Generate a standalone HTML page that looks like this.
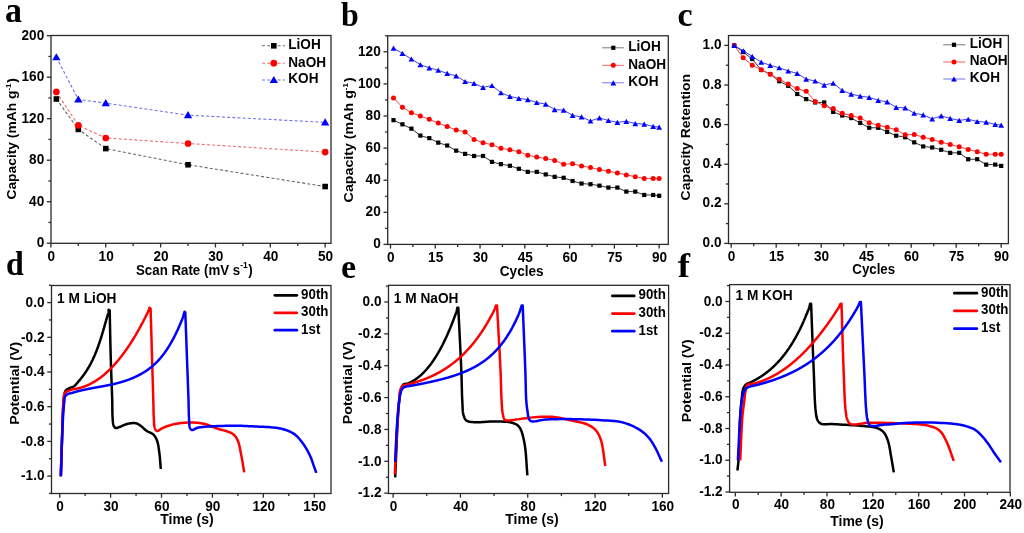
<!DOCTYPE html>
<html><head><meta charset="utf-8"><style>
html,body{margin:0;padding:0;background:#fff;}
svg{display:block;will-change:transform;}
</style></head><body>
<svg width="1024" height="533" viewBox="0 0 1024 533">
<rect width="1024" height="533" fill="#fff"/>
<g transform="translate(5.00,21.80) scale(1.0,1.04)"><text x="0" y="0" font-family='"Liberation Serif", serif' font-size="34" font-weight="bold" text-anchor="start" fill="#000">a</text></g>
<rect x="51.00" y="35.50" width="280.00" height="207.80" fill="none" stroke="#2a2a2a" stroke-width="1.3"/>
<line x1="50.90" y1="243.30" x2="50.90" y2="247.50" stroke="#2a2a2a" stroke-width="1.3" />
<line x1="105.75" y1="243.30" x2="105.75" y2="247.50" stroke="#2a2a2a" stroke-width="1.3" />
<line x1="160.60" y1="243.30" x2="160.60" y2="247.50" stroke="#2a2a2a" stroke-width="1.3" />
<line x1="215.45" y1="243.30" x2="215.45" y2="247.50" stroke="#2a2a2a" stroke-width="1.3" />
<line x1="270.30" y1="243.30" x2="270.30" y2="247.50" stroke="#2a2a2a" stroke-width="1.3" />
<line x1="325.15" y1="243.30" x2="325.15" y2="247.50" stroke="#2a2a2a" stroke-width="1.3" />
<line x1="78.33" y1="243.30" x2="78.33" y2="245.90" stroke="#2a2a2a" stroke-width="1.3" />
<line x1="133.18" y1="243.30" x2="133.18" y2="245.90" stroke="#2a2a2a" stroke-width="1.3" />
<line x1="188.03" y1="243.30" x2="188.03" y2="245.90" stroke="#2a2a2a" stroke-width="1.3" />
<line x1="242.88" y1="243.30" x2="242.88" y2="245.90" stroke="#2a2a2a" stroke-width="1.3" />
<line x1="297.73" y1="243.30" x2="297.73" y2="245.90" stroke="#2a2a2a" stroke-width="1.3" />
<g transform="translate(51.30,260.70) scale(1.0,1.08)"><text x="0" y="0" font-family='"Liberation Sans", sans-serif' font-size="13.6" font-weight="bold" text-anchor="middle" fill="#000">0</text></g>
<g transform="translate(106.15,260.70) scale(1.0,1.08)"><text x="0" y="0" font-family='"Liberation Sans", sans-serif' font-size="13.6" font-weight="bold" text-anchor="middle" fill="#000">10</text></g>
<g transform="translate(161.00,260.70) scale(1.0,1.08)"><text x="0" y="0" font-family='"Liberation Sans", sans-serif' font-size="13.6" font-weight="bold" text-anchor="middle" fill="#000">20</text></g>
<g transform="translate(215.85,260.70) scale(1.0,1.08)"><text x="0" y="0" font-family='"Liberation Sans", sans-serif' font-size="13.6" font-weight="bold" text-anchor="middle" fill="#000">30</text></g>
<g transform="translate(270.70,260.70) scale(1.0,1.08)"><text x="0" y="0" font-family='"Liberation Sans", sans-serif' font-size="13.6" font-weight="bold" text-anchor="middle" fill="#000">40</text></g>
<g transform="translate(325.55,260.70) scale(1.0,1.08)"><text x="0" y="0" font-family='"Liberation Sans", sans-serif' font-size="13.6" font-weight="bold" text-anchor="middle" fill="#000">50</text></g>
<line x1="46.80" y1="243.20" x2="51.00" y2="243.20" stroke="#2a2a2a" stroke-width="1.3" />
<line x1="46.80" y1="201.70" x2="51.00" y2="201.70" stroke="#2a2a2a" stroke-width="1.3" />
<line x1="46.80" y1="160.20" x2="51.00" y2="160.20" stroke="#2a2a2a" stroke-width="1.3" />
<line x1="46.80" y1="118.70" x2="51.00" y2="118.70" stroke="#2a2a2a" stroke-width="1.3" />
<line x1="46.80" y1="77.20" x2="51.00" y2="77.20" stroke="#2a2a2a" stroke-width="1.3" />
<line x1="46.80" y1="35.70" x2="51.00" y2="35.70" stroke="#2a2a2a" stroke-width="1.3" />
<line x1="48.40" y1="222.45" x2="51.00" y2="222.45" stroke="#2a2a2a" stroke-width="1.3" />
<line x1="48.40" y1="180.95" x2="51.00" y2="180.95" stroke="#2a2a2a" stroke-width="1.3" />
<line x1="48.40" y1="139.45" x2="51.00" y2="139.45" stroke="#2a2a2a" stroke-width="1.3" />
<line x1="48.40" y1="97.95" x2="51.00" y2="97.95" stroke="#2a2a2a" stroke-width="1.3" />
<line x1="48.40" y1="56.45" x2="51.00" y2="56.45" stroke="#2a2a2a" stroke-width="1.3" />
<g transform="translate(44.20,247.40) scale(1.0,1.08)"><text x="0" y="0" font-family='"Liberation Sans", sans-serif' font-size="13.6" font-weight="bold" text-anchor="end" fill="#000">0</text></g>
<g transform="translate(44.20,205.90) scale(1.0,1.08)"><text x="0" y="0" font-family='"Liberation Sans", sans-serif' font-size="13.6" font-weight="bold" text-anchor="end" fill="#000">40</text></g>
<g transform="translate(44.20,164.40) scale(1.0,1.08)"><text x="0" y="0" font-family='"Liberation Sans", sans-serif' font-size="13.6" font-weight="bold" text-anchor="end" fill="#000">80</text></g>
<g transform="translate(44.20,122.90) scale(1.0,1.08)"><text x="0" y="0" font-family='"Liberation Sans", sans-serif' font-size="13.6" font-weight="bold" text-anchor="end" fill="#000">120</text></g>
<g transform="translate(44.20,81.40) scale(1.0,1.08)"><text x="0" y="0" font-family='"Liberation Sans", sans-serif' font-size="13.6" font-weight="bold" text-anchor="end" fill="#000">160</text></g>
<g transform="translate(44.20,39.90) scale(1.0,1.08)"><text x="0" y="0" font-family='"Liberation Sans", sans-serif' font-size="13.6" font-weight="bold" text-anchor="end" fill="#000">200</text></g>
<g transform="translate(194.30,275.00) scale(1.0,1.1)"><text x="0" y="0" font-family='"Liberation Sans", sans-serif' font-size="13.3" font-weight="bold" text-anchor="middle" fill="#000">Scan Rate (mV s<tspan dy="-6.8" font-size="8.5">-1</tspan><tspan dy="6.8" dx="0.5">)</tspan></text></g>
<g transform="translate(15.90,138.80) rotate(-90) scale(1.04,1.0)"><text x="0" y="0" font-family='"Liberation Sans", sans-serif' font-size="13.3" font-weight="bold" text-anchor="middle">Capacity (mAh g<tspan dy="-5" font-size="7.5">-1</tspan><tspan dy="5" dx="1">)</tspan></text></g>
<polyline points="56.38,98.99 78.33,129.39 105.75,148.58 188.03,164.76 325.15,186.55" fill="none" stroke="#666" stroke-width="1.1" stroke-dasharray="3,2.2"/>
<polyline points="56.38,91.93 78.33,125.34 105.75,138.00 188.03,143.50 325.15,152.11" fill="none" stroke="#f07070" stroke-width="1.1" stroke-dasharray="3,2.2"/>
<polyline points="56.38,57.18 78.33,99.51 105.75,103.14 188.03,115.17 325.15,122.33" fill="none" stroke="#7070f0" stroke-width="1.1" stroke-dasharray="3,2.2"/>
<rect x="53.59" y="96.19" width="5.6" height="5.6" fill="#000000"/>
<rect x="75.53" y="126.59" width="5.6" height="5.6" fill="#000000"/>
<rect x="102.95" y="145.78" width="5.6" height="5.6" fill="#000000"/>
<rect x="185.22" y="161.96" width="5.6" height="5.6" fill="#000000"/>
<rect x="322.35" y="183.75" width="5.6" height="5.6" fill="#000000"/>
<circle cx="56.38" cy="91.93" r="3.35" fill="#ff0000"/>
<circle cx="78.33" cy="125.34" r="3.35" fill="#ff0000"/>
<circle cx="105.75" cy="138.00" r="3.35" fill="#ff0000"/>
<circle cx="188.03" cy="143.50" r="3.35" fill="#ff0000"/>
<circle cx="325.15" cy="152.11" r="3.35" fill="#ff0000"/>
<path d="M56.38 53.13 L60.53 60.23 L52.23 60.23 Z" fill="#0000ff"/>
<path d="M78.33 95.46 L82.48 102.56 L74.17 102.56 Z" fill="#0000ff"/>
<path d="M105.75 99.09 L109.90 106.19 L101.60 106.19 Z" fill="#0000ff"/>
<path d="M188.03 111.12 L192.18 118.22 L183.88 118.22 Z" fill="#0000ff"/>
<path d="M325.15 118.28 L329.30 125.38 L321.00 125.38 Z" fill="#0000ff"/>
<line x1="262.00" y1="45.80" x2="285.00" y2="45.80" stroke="#666" stroke-width="1.1" stroke-dasharray="3,2.2"/>
<rect x="271.00" y="43.00" width="5.6" height="5.6" fill="#000000"/>
<g transform="translate(288.30,49.20) scale(1.0,1.1)"><text x="0" y="0" font-family='"Liberation Sans", sans-serif' font-size="13.6" font-weight="bold" text-anchor="start" fill="#000">LiOH</text></g>
<line x1="262.00" y1="63.20" x2="285.00" y2="63.20" stroke="#f07070" stroke-width="1.1" stroke-dasharray="3,2.2"/>
<circle cx="273.80" cy="63.20" r="3.35" fill="#ff0000"/>
<g transform="translate(288.30,66.60) scale(1.0,1.1)"><text x="0" y="0" font-family='"Liberation Sans", sans-serif' font-size="13.6" font-weight="bold" text-anchor="start" fill="#000">NaOH</text></g>
<line x1="262.00" y1="80.00" x2="285.00" y2="80.00" stroke="#7070f0" stroke-width="1.1" stroke-dasharray="3,2.2"/>
<path d="M273.80 75.95 L277.95 83.05 L269.65 83.05 Z" fill="#0000ff"/>
<g transform="translate(288.30,83.40) scale(1.0,1.1)"><text x="0" y="0" font-family='"Liberation Sans", sans-serif' font-size="13.6" font-weight="bold" text-anchor="start" fill="#000">KOH</text></g>
<g transform="translate(341.00,26.30) scale(0.94,1.0)"><text x="0" y="0" font-family='"Liberation Serif", serif' font-size="34" font-weight="bold" text-anchor="start" fill="#000">b</text></g>
<rect x="387.70" y="35.80" width="280.60" height="208.60" fill="none" stroke="#2a2a2a" stroke-width="1.3"/>
<line x1="390.50" y1="244.40" x2="390.50" y2="248.60" stroke="#2a2a2a" stroke-width="1.3" />
<line x1="435.27" y1="244.40" x2="435.27" y2="248.60" stroke="#2a2a2a" stroke-width="1.3" />
<line x1="480.05" y1="244.40" x2="480.05" y2="248.60" stroke="#2a2a2a" stroke-width="1.3" />
<line x1="524.83" y1="244.40" x2="524.83" y2="248.60" stroke="#2a2a2a" stroke-width="1.3" />
<line x1="569.60" y1="244.40" x2="569.60" y2="248.60" stroke="#2a2a2a" stroke-width="1.3" />
<line x1="614.38" y1="244.40" x2="614.38" y2="248.60" stroke="#2a2a2a" stroke-width="1.3" />
<line x1="659.15" y1="244.40" x2="659.15" y2="248.60" stroke="#2a2a2a" stroke-width="1.3" />
<line x1="412.89" y1="244.40" x2="412.89" y2="247.00" stroke="#2a2a2a" stroke-width="1.3" />
<line x1="457.66" y1="244.40" x2="457.66" y2="247.00" stroke="#2a2a2a" stroke-width="1.3" />
<line x1="502.44" y1="244.40" x2="502.44" y2="247.00" stroke="#2a2a2a" stroke-width="1.3" />
<line x1="547.21" y1="244.40" x2="547.21" y2="247.00" stroke="#2a2a2a" stroke-width="1.3" />
<line x1="591.99" y1="244.40" x2="591.99" y2="247.00" stroke="#2a2a2a" stroke-width="1.3" />
<line x1="636.76" y1="244.40" x2="636.76" y2="247.00" stroke="#2a2a2a" stroke-width="1.3" />
<g transform="translate(390.90,262.00) scale(1.0,1.12)"><text x="0" y="0" font-family='"Liberation Sans", sans-serif' font-size="13.6" font-weight="bold" text-anchor="middle" fill="#000">0</text></g>
<g transform="translate(435.67,262.00) scale(1.0,1.12)"><text x="0" y="0" font-family='"Liberation Sans", sans-serif' font-size="13.6" font-weight="bold" text-anchor="middle" fill="#000">15</text></g>
<g transform="translate(480.45,262.00) scale(1.0,1.12)"><text x="0" y="0" font-family='"Liberation Sans", sans-serif' font-size="13.6" font-weight="bold" text-anchor="middle" fill="#000">30</text></g>
<g transform="translate(525.23,262.00) scale(1.0,1.12)"><text x="0" y="0" font-family='"Liberation Sans", sans-serif' font-size="13.6" font-weight="bold" text-anchor="middle" fill="#000">45</text></g>
<g transform="translate(570.00,262.00) scale(1.0,1.12)"><text x="0" y="0" font-family='"Liberation Sans", sans-serif' font-size="13.6" font-weight="bold" text-anchor="middle" fill="#000">60</text></g>
<g transform="translate(614.77,262.00) scale(1.0,1.12)"><text x="0" y="0" font-family='"Liberation Sans", sans-serif' font-size="13.6" font-weight="bold" text-anchor="middle" fill="#000">75</text></g>
<g transform="translate(659.55,262.00) scale(1.0,1.12)"><text x="0" y="0" font-family='"Liberation Sans", sans-serif' font-size="13.6" font-weight="bold" text-anchor="middle" fill="#000">90</text></g>
<line x1="383.50" y1="244.40" x2="387.70" y2="244.40" stroke="#2a2a2a" stroke-width="1.3" />
<line x1="383.50" y1="212.30" x2="387.70" y2="212.30" stroke="#2a2a2a" stroke-width="1.3" />
<line x1="383.50" y1="180.20" x2="387.70" y2="180.20" stroke="#2a2a2a" stroke-width="1.3" />
<line x1="383.50" y1="148.10" x2="387.70" y2="148.10" stroke="#2a2a2a" stroke-width="1.3" />
<line x1="383.50" y1="116.00" x2="387.70" y2="116.00" stroke="#2a2a2a" stroke-width="1.3" />
<line x1="383.50" y1="83.90" x2="387.70" y2="83.90" stroke="#2a2a2a" stroke-width="1.3" />
<line x1="383.50" y1="51.80" x2="387.70" y2="51.80" stroke="#2a2a2a" stroke-width="1.3" />
<line x1="385.10" y1="228.35" x2="387.70" y2="228.35" stroke="#2a2a2a" stroke-width="1.3" />
<line x1="385.10" y1="196.25" x2="387.70" y2="196.25" stroke="#2a2a2a" stroke-width="1.3" />
<line x1="385.10" y1="164.15" x2="387.70" y2="164.15" stroke="#2a2a2a" stroke-width="1.3" />
<line x1="385.10" y1="132.05" x2="387.70" y2="132.05" stroke="#2a2a2a" stroke-width="1.3" />
<line x1="385.10" y1="99.95" x2="387.70" y2="99.95" stroke="#2a2a2a" stroke-width="1.3" />
<line x1="385.10" y1="67.85" x2="387.70" y2="67.85" stroke="#2a2a2a" stroke-width="1.3" />
<line x1="385.10" y1="35.75" x2="387.70" y2="35.75" stroke="#2a2a2a" stroke-width="1.3" />
<g transform="translate(380.70,248.40) scale(1.0,1.08)"><text x="0" y="0" font-family='"Liberation Sans", sans-serif' font-size="13.6" font-weight="bold" text-anchor="end" fill="#000">0</text></g>
<g transform="translate(380.70,216.30) scale(1.0,1.08)"><text x="0" y="0" font-family='"Liberation Sans", sans-serif' font-size="13.6" font-weight="bold" text-anchor="end" fill="#000">20</text></g>
<g transform="translate(380.70,184.20) scale(1.0,1.08)"><text x="0" y="0" font-family='"Liberation Sans", sans-serif' font-size="13.6" font-weight="bold" text-anchor="end" fill="#000">40</text></g>
<g transform="translate(380.70,152.10) scale(1.0,1.08)"><text x="0" y="0" font-family='"Liberation Sans", sans-serif' font-size="13.6" font-weight="bold" text-anchor="end" fill="#000">60</text></g>
<g transform="translate(380.70,120.00) scale(1.0,1.08)"><text x="0" y="0" font-family='"Liberation Sans", sans-serif' font-size="13.6" font-weight="bold" text-anchor="end" fill="#000">80</text></g>
<g transform="translate(380.70,87.90) scale(1.0,1.08)"><text x="0" y="0" font-family='"Liberation Sans", sans-serif' font-size="13.6" font-weight="bold" text-anchor="end" fill="#000">100</text></g>
<g transform="translate(380.70,55.80) scale(1.0,1.08)"><text x="0" y="0" font-family='"Liberation Sans", sans-serif' font-size="13.6" font-weight="bold" text-anchor="end" fill="#000">120</text></g>
<g transform="translate(521.70,275.50) scale(1.0,1.1)"><text x="0" y="0" font-family='"Liberation Sans", sans-serif' font-size="13.6" font-weight="bold" text-anchor="middle" fill="#000">Cycles</text></g>
<polyline points="393.49,120.17 402.44,124.35 411.39,128.68 420.35,135.58 429.31,138.15 438.26,142.64 447.21,145.53 456.17,150.67 465.12,153.88 474.08,155.96 483.03,155.96 491.99,161.90 500.94,164.15 509.90,165.75 518.86,168.80 527.81,171.85 536.76,171.85 545.72,174.42 554.67,176.83 563.63,177.79 572.59,181.00 581.54,183.57 590.50,184.21 599.45,185.66 608.40,187.58 617.36,187.58 626.32,191.60 635.27,191.60 644.23,194.97 653.18,194.97 659.15,195.77" fill="none" stroke="#333" stroke-width="1.0" />
<rect x="391.38" y="118.07" width="4.2" height="4.2" fill="#000000"/>
<rect x="400.34" y="122.25" width="4.2" height="4.2" fill="#000000"/>
<rect x="409.29" y="126.58" width="4.2" height="4.2" fill="#000000"/>
<rect x="418.25" y="133.48" width="4.2" height="4.2" fill="#000000"/>
<rect x="427.20" y="136.05" width="4.2" height="4.2" fill="#000000"/>
<rect x="436.16" y="140.54" width="4.2" height="4.2" fill="#000000"/>
<rect x="445.11" y="143.43" width="4.2" height="4.2" fill="#000000"/>
<rect x="454.07" y="148.57" width="4.2" height="4.2" fill="#000000"/>
<rect x="463.02" y="151.78" width="4.2" height="4.2" fill="#000000"/>
<rect x="471.98" y="153.86" width="4.2" height="4.2" fill="#000000"/>
<rect x="480.93" y="153.86" width="4.2" height="4.2" fill="#000000"/>
<rect x="489.89" y="159.80" width="4.2" height="4.2" fill="#000000"/>
<rect x="498.84" y="162.05" width="4.2" height="4.2" fill="#000000"/>
<rect x="507.80" y="163.66" width="4.2" height="4.2" fill="#000000"/>
<rect x="516.75" y="166.70" width="4.2" height="4.2" fill="#000000"/>
<rect x="525.71" y="169.75" width="4.2" height="4.2" fill="#000000"/>
<rect x="534.66" y="169.75" width="4.2" height="4.2" fill="#000000"/>
<rect x="543.62" y="172.32" width="4.2" height="4.2" fill="#000000"/>
<rect x="552.57" y="174.73" width="4.2" height="4.2" fill="#000000"/>
<rect x="561.53" y="175.69" width="4.2" height="4.2" fill="#000000"/>
<rect x="570.49" y="178.90" width="4.2" height="4.2" fill="#000000"/>
<rect x="579.44" y="181.47" width="4.2" height="4.2" fill="#000000"/>
<rect x="588.39" y="182.11" width="4.2" height="4.2" fill="#000000"/>
<rect x="597.35" y="183.56" width="4.2" height="4.2" fill="#000000"/>
<rect x="606.30" y="185.48" width="4.2" height="4.2" fill="#000000"/>
<rect x="615.26" y="185.48" width="4.2" height="4.2" fill="#000000"/>
<rect x="624.22" y="189.50" width="4.2" height="4.2" fill="#000000"/>
<rect x="633.17" y="189.50" width="4.2" height="4.2" fill="#000000"/>
<rect x="642.12" y="192.87" width="4.2" height="4.2" fill="#000000"/>
<rect x="651.08" y="192.87" width="4.2" height="4.2" fill="#000000"/>
<rect x="657.05" y="193.67" width="4.2" height="4.2" fill="#000000"/>
<polyline points="393.49,98.02 402.44,107.17 411.39,112.63 420.35,116.00 429.31,119.37 438.26,123.06 447.21,126.59 456.17,129.96 465.12,131.89 474.08,139.43 483.03,142.64 491.99,144.73 500.94,148.26 509.90,149.87 518.86,151.63 527.81,155.16 536.76,157.09 545.72,158.53 554.67,160.46 563.63,164.15 572.59,163.83 581.54,165.92 590.50,167.52 599.45,169.61 608.40,171.21 617.36,172.98 626.32,174.90 635.27,176.67 644.23,178.43 653.18,178.43 659.15,178.43" fill="none" stroke="#f04040" stroke-width="1.0" />
<circle cx="393.49" cy="98.02" r="2.5" fill="#ff0000"/>
<circle cx="402.44" cy="107.17" r="2.5" fill="#ff0000"/>
<circle cx="411.39" cy="112.63" r="2.5" fill="#ff0000"/>
<circle cx="420.35" cy="116.00" r="2.5" fill="#ff0000"/>
<circle cx="429.31" cy="119.37" r="2.5" fill="#ff0000"/>
<circle cx="438.26" cy="123.06" r="2.5" fill="#ff0000"/>
<circle cx="447.21" cy="126.59" r="2.5" fill="#ff0000"/>
<circle cx="456.17" cy="129.96" r="2.5" fill="#ff0000"/>
<circle cx="465.12" cy="131.89" r="2.5" fill="#ff0000"/>
<circle cx="474.08" cy="139.43" r="2.5" fill="#ff0000"/>
<circle cx="483.03" cy="142.64" r="2.5" fill="#ff0000"/>
<circle cx="491.99" cy="144.73" r="2.5" fill="#ff0000"/>
<circle cx="500.94" cy="148.26" r="2.5" fill="#ff0000"/>
<circle cx="509.90" cy="149.87" r="2.5" fill="#ff0000"/>
<circle cx="518.86" cy="151.63" r="2.5" fill="#ff0000"/>
<circle cx="527.81" cy="155.16" r="2.5" fill="#ff0000"/>
<circle cx="536.76" cy="157.09" r="2.5" fill="#ff0000"/>
<circle cx="545.72" cy="158.53" r="2.5" fill="#ff0000"/>
<circle cx="554.67" cy="160.46" r="2.5" fill="#ff0000"/>
<circle cx="563.63" cy="164.15" r="2.5" fill="#ff0000"/>
<circle cx="572.59" cy="163.83" r="2.5" fill="#ff0000"/>
<circle cx="581.54" cy="165.92" r="2.5" fill="#ff0000"/>
<circle cx="590.50" cy="167.52" r="2.5" fill="#ff0000"/>
<circle cx="599.45" cy="169.61" r="2.5" fill="#ff0000"/>
<circle cx="608.40" cy="171.21" r="2.5" fill="#ff0000"/>
<circle cx="617.36" cy="172.98" r="2.5" fill="#ff0000"/>
<circle cx="626.32" cy="174.90" r="2.5" fill="#ff0000"/>
<circle cx="635.27" cy="176.67" r="2.5" fill="#ff0000"/>
<circle cx="644.23" cy="178.43" r="2.5" fill="#ff0000"/>
<circle cx="653.18" cy="178.43" r="2.5" fill="#ff0000"/>
<circle cx="659.15" cy="178.43" r="2.5" fill="#ff0000"/>
<polyline points="393.49,48.11 402.44,53.41 411.39,59.02 420.35,64.64 429.31,67.85 438.26,70.26 447.21,73.47 456.17,75.88 465.12,81.49 474.08,83.42 483.03,87.43 491.99,85.50 500.94,92.73 509.90,96.42 518.86,98.34 527.81,99.63 536.76,102.52 545.72,104.12 554.67,109.58 563.63,110.06 572.59,115.36 581.54,116.96 590.50,120.98 599.45,117.93 608.40,120.49 617.36,122.42 626.32,121.30 635.27,123.54 644.23,124.19 653.18,126.43 659.15,127.07" fill="none" stroke="#4040f0" stroke-width="1.0" />
<path d="M393.49 45.51 L396.38 50.71 L390.59 50.71 Z" fill="#0000ff"/>
<path d="M402.44 50.80 L405.34 56.01 L399.54 56.01 Z" fill="#0000ff"/>
<path d="M411.39 56.42 L414.29 61.62 L408.50 61.62 Z" fill="#0000ff"/>
<path d="M420.35 62.04 L423.25 67.24 L417.45 67.24 Z" fill="#0000ff"/>
<path d="M429.31 65.25 L432.20 70.45 L426.41 70.45 Z" fill="#0000ff"/>
<path d="M438.26 67.66 L441.16 72.86 L435.36 72.86 Z" fill="#0000ff"/>
<path d="M447.21 70.87 L450.11 76.07 L444.31 76.07 Z" fill="#0000ff"/>
<path d="M456.17 73.28 L459.07 78.47 L453.27 78.47 Z" fill="#0000ff"/>
<path d="M465.12 78.89 L468.02 84.09 L462.23 84.09 Z" fill="#0000ff"/>
<path d="M474.08 80.82 L476.98 86.02 L471.18 86.02 Z" fill="#0000ff"/>
<path d="M483.03 84.83 L485.93 90.03 L480.13 90.03 Z" fill="#0000ff"/>
<path d="M491.99 82.91 L494.89 88.10 L489.09 88.10 Z" fill="#0000ff"/>
<path d="M500.94 90.13 L503.84 95.33 L498.05 95.33 Z" fill="#0000ff"/>
<path d="M509.90 93.82 L512.80 99.02 L507.00 99.02 Z" fill="#0000ff"/>
<path d="M518.86 95.75 L521.75 100.94 L515.96 100.94 Z" fill="#0000ff"/>
<path d="M527.81 97.03 L530.71 102.23 L524.91 102.23 Z" fill="#0000ff"/>
<path d="M536.76 99.92 L539.66 105.12 L533.87 105.12 Z" fill="#0000ff"/>
<path d="M545.72 101.52 L548.62 106.72 L542.82 106.72 Z" fill="#0000ff"/>
<path d="M554.67 106.98 L557.57 112.18 L551.77 112.18 Z" fill="#0000ff"/>
<path d="M563.63 107.46 L566.53 112.66 L560.73 112.66 Z" fill="#0000ff"/>
<path d="M572.59 112.76 L575.49 117.96 L569.69 117.96 Z" fill="#0000ff"/>
<path d="M581.54 114.36 L584.44 119.56 L578.64 119.56 Z" fill="#0000ff"/>
<path d="M590.50 118.38 L593.39 123.58 L587.60 123.58 Z" fill="#0000ff"/>
<path d="M599.45 115.33 L602.35 120.53 L596.55 120.53 Z" fill="#0000ff"/>
<path d="M608.40 117.89 L611.30 123.09 L605.50 123.09 Z" fill="#0000ff"/>
<path d="M617.36 119.82 L620.26 125.02 L614.46 125.02 Z" fill="#0000ff"/>
<path d="M626.32 118.70 L629.22 123.90 L623.42 123.90 Z" fill="#0000ff"/>
<path d="M635.27 120.94 L638.17 126.14 L632.37 126.14 Z" fill="#0000ff"/>
<path d="M644.23 121.59 L647.12 126.79 L641.33 126.79 Z" fill="#0000ff"/>
<path d="M653.18 123.83 L656.08 129.03 L650.28 129.03 Z" fill="#0000ff"/>
<path d="M659.15 124.47 L662.05 129.67 L656.25 129.67 Z" fill="#0000ff"/>
<line x1="602.20" y1="47.80" x2="623.80" y2="47.80" stroke="#777" stroke-width="1.0" />
<rect x="611.20" y="45.70" width="4.2" height="4.2" fill="#000000"/>
<g transform="translate(628.30,51.20) scale(1.0,1.1)"><text x="0" y="0" font-family='"Liberation Sans", sans-serif' font-size="13.6" font-weight="bold" text-anchor="start" fill="#000">LiOH</text></g>
<line x1="602.20" y1="65.30" x2="623.80" y2="65.30" stroke="#f06060" stroke-width="1.0" />
<circle cx="613.30" cy="65.30" r="2.5" fill="#ff0000"/>
<g transform="translate(628.30,68.70) scale(1.0,1.1)"><text x="0" y="0" font-family='"Liberation Sans", sans-serif' font-size="13.6" font-weight="bold" text-anchor="start" fill="#000">NaOH</text></g>
<line x1="602.20" y1="82.80" x2="623.80" y2="82.80" stroke="#7878e8" stroke-width="1.0" />
<path d="M613.30 80.20 L616.20 85.40 L610.40 85.40 Z" fill="#0000ff"/>
<g transform="translate(628.30,86.20) scale(1.0,1.1)"><text x="0" y="0" font-family='"Liberation Sans", sans-serif' font-size="13.6" font-weight="bold" text-anchor="start" fill="#000">KOH</text></g>
<g transform="translate(352.60,139.80) rotate(-90) scale(1.07,1.0)"><text x="0" y="0" font-family='"Liberation Sans", sans-serif' font-size="13.3" font-weight="bold" text-anchor="middle">Capacity (mAh g<tspan dy="-5" font-size="7.5">-1</tspan><tspan dy="5" dx="1">)</tspan></text></g>
<g transform="translate(677.50,25.80) scale(1.0,1.0)"><text x="0" y="0" font-family='"Liberation Serif", serif' font-size="34" font-weight="bold" text-anchor="start" fill="#000">c</text></g>
<rect x="728.50" y="35.50" width="279.90" height="208.10" fill="none" stroke="#2a2a2a" stroke-width="1.3"/>
<line x1="731.20" y1="243.60" x2="731.20" y2="247.80" stroke="#2a2a2a" stroke-width="1.3" />
<line x1="776.20" y1="243.60" x2="776.20" y2="247.80" stroke="#2a2a2a" stroke-width="1.3" />
<line x1="821.20" y1="243.60" x2="821.20" y2="247.80" stroke="#2a2a2a" stroke-width="1.3" />
<line x1="866.20" y1="243.60" x2="866.20" y2="247.80" stroke="#2a2a2a" stroke-width="1.3" />
<line x1="911.20" y1="243.60" x2="911.20" y2="247.80" stroke="#2a2a2a" stroke-width="1.3" />
<line x1="956.20" y1="243.60" x2="956.20" y2="247.80" stroke="#2a2a2a" stroke-width="1.3" />
<line x1="1001.20" y1="243.60" x2="1001.20" y2="247.80" stroke="#2a2a2a" stroke-width="1.3" />
<line x1="753.70" y1="243.60" x2="753.70" y2="246.20" stroke="#2a2a2a" stroke-width="1.3" />
<line x1="798.70" y1="243.60" x2="798.70" y2="246.20" stroke="#2a2a2a" stroke-width="1.3" />
<line x1="843.70" y1="243.60" x2="843.70" y2="246.20" stroke="#2a2a2a" stroke-width="1.3" />
<line x1="888.70" y1="243.60" x2="888.70" y2="246.20" stroke="#2a2a2a" stroke-width="1.3" />
<line x1="933.70" y1="243.60" x2="933.70" y2="246.20" stroke="#2a2a2a" stroke-width="1.3" />
<line x1="978.70" y1="243.60" x2="978.70" y2="246.20" stroke="#2a2a2a" stroke-width="1.3" />
<g transform="translate(731.60,261.30) scale(1.0,1.12)"><text x="0" y="0" font-family='"Liberation Sans", sans-serif' font-size="13.6" font-weight="bold" text-anchor="middle" fill="#000">0</text></g>
<g transform="translate(776.60,261.30) scale(1.0,1.12)"><text x="0" y="0" font-family='"Liberation Sans", sans-serif' font-size="13.6" font-weight="bold" text-anchor="middle" fill="#000">15</text></g>
<g transform="translate(821.60,261.30) scale(1.0,1.12)"><text x="0" y="0" font-family='"Liberation Sans", sans-serif' font-size="13.6" font-weight="bold" text-anchor="middle" fill="#000">30</text></g>
<g transform="translate(866.60,261.30) scale(1.0,1.12)"><text x="0" y="0" font-family='"Liberation Sans", sans-serif' font-size="13.6" font-weight="bold" text-anchor="middle" fill="#000">45</text></g>
<g transform="translate(911.60,261.30) scale(1.0,1.12)"><text x="0" y="0" font-family='"Liberation Sans", sans-serif' font-size="13.6" font-weight="bold" text-anchor="middle" fill="#000">60</text></g>
<g transform="translate(956.60,261.30) scale(1.0,1.12)"><text x="0" y="0" font-family='"Liberation Sans", sans-serif' font-size="13.6" font-weight="bold" text-anchor="middle" fill="#000">75</text></g>
<g transform="translate(1001.60,261.30) scale(1.0,1.12)"><text x="0" y="0" font-family='"Liberation Sans", sans-serif' font-size="13.6" font-weight="bold" text-anchor="middle" fill="#000">90</text></g>
<line x1="724.30" y1="243.40" x2="728.50" y2="243.40" stroke="#2a2a2a" stroke-width="1.3" />
<line x1="724.30" y1="203.80" x2="728.50" y2="203.80" stroke="#2a2a2a" stroke-width="1.3" />
<line x1="724.30" y1="164.20" x2="728.50" y2="164.20" stroke="#2a2a2a" stroke-width="1.3" />
<line x1="724.30" y1="124.60" x2="728.50" y2="124.60" stroke="#2a2a2a" stroke-width="1.3" />
<line x1="724.30" y1="85.00" x2="728.50" y2="85.00" stroke="#2a2a2a" stroke-width="1.3" />
<line x1="724.30" y1="45.40" x2="728.50" y2="45.40" stroke="#2a2a2a" stroke-width="1.3" />
<line x1="725.90" y1="223.60" x2="728.50" y2="223.60" stroke="#2a2a2a" stroke-width="1.3" />
<line x1="725.90" y1="184.00" x2="728.50" y2="184.00" stroke="#2a2a2a" stroke-width="1.3" />
<line x1="725.90" y1="144.40" x2="728.50" y2="144.40" stroke="#2a2a2a" stroke-width="1.3" />
<line x1="725.90" y1="104.80" x2="728.50" y2="104.80" stroke="#2a2a2a" stroke-width="1.3" />
<line x1="725.90" y1="65.20" x2="728.50" y2="65.20" stroke="#2a2a2a" stroke-width="1.3" />
<g transform="translate(721.50,246.90) scale(1.0,1.08)"><text x="0" y="0" font-family='"Liberation Sans", sans-serif' font-size="13.6" font-weight="bold" text-anchor="end" fill="#000">0.0</text></g>
<g transform="translate(721.50,207.30) scale(1.0,1.08)"><text x="0" y="0" font-family='"Liberation Sans", sans-serif' font-size="13.6" font-weight="bold" text-anchor="end" fill="#000">0.2</text></g>
<g transform="translate(721.50,167.70) scale(1.0,1.08)"><text x="0" y="0" font-family='"Liberation Sans", sans-serif' font-size="13.6" font-weight="bold" text-anchor="end" fill="#000">0.4</text></g>
<g transform="translate(721.50,128.10) scale(1.0,1.08)"><text x="0" y="0" font-family='"Liberation Sans", sans-serif' font-size="13.6" font-weight="bold" text-anchor="end" fill="#000">0.6</text></g>
<g transform="translate(721.50,88.50) scale(1.0,1.08)"><text x="0" y="0" font-family='"Liberation Sans", sans-serif' font-size="13.6" font-weight="bold" text-anchor="end" fill="#000">0.8</text></g>
<g transform="translate(721.50,48.90) scale(1.0,1.08)"><text x="0" y="0" font-family='"Liberation Sans", sans-serif' font-size="13.6" font-weight="bold" text-anchor="end" fill="#000">1.0</text></g>
<g transform="translate(873.70,273.80) scale(1.0,1.1)"><text x="0" y="0" font-family='"Liberation Sans", sans-serif' font-size="13.3" font-weight="bold" text-anchor="middle" fill="#000">Cycles</text></g>
<polyline points="734.20,45.40 743.20,52.05 752.20,58.96 761.20,69.96 770.20,74.05 779.20,81.21 788.20,85.82 797.20,94.00 806.20,99.12 815.20,102.45 824.20,102.45 833.20,111.91 842.20,115.49 851.20,118.05 860.20,122.91 869.20,127.77 878.20,127.77 887.20,131.87 896.20,135.70 905.20,137.24 914.20,142.35 923.20,146.45 932.20,147.47 941.20,149.77 950.20,152.84 959.20,152.84 968.20,159.24 977.20,159.24 986.20,164.61 995.20,164.61 1001.20,165.89" fill="none" stroke="#333" stroke-width="1.0" />
<rect x="732.10" y="43.30" width="4.2" height="4.2" fill="#000000"/>
<rect x="741.10" y="49.95" width="4.2" height="4.2" fill="#000000"/>
<rect x="750.10" y="56.86" width="4.2" height="4.2" fill="#000000"/>
<rect x="759.10" y="67.86" width="4.2" height="4.2" fill="#000000"/>
<rect x="768.10" y="71.95" width="4.2" height="4.2" fill="#000000"/>
<rect x="777.10" y="79.11" width="4.2" height="4.2" fill="#000000"/>
<rect x="786.10" y="83.72" width="4.2" height="4.2" fill="#000000"/>
<rect x="795.10" y="91.90" width="4.2" height="4.2" fill="#000000"/>
<rect x="804.10" y="97.02" width="4.2" height="4.2" fill="#000000"/>
<rect x="813.10" y="100.35" width="4.2" height="4.2" fill="#000000"/>
<rect x="822.10" y="100.35" width="4.2" height="4.2" fill="#000000"/>
<rect x="831.10" y="109.81" width="4.2" height="4.2" fill="#000000"/>
<rect x="840.10" y="113.39" width="4.2" height="4.2" fill="#000000"/>
<rect x="849.10" y="115.95" width="4.2" height="4.2" fill="#000000"/>
<rect x="858.10" y="120.81" width="4.2" height="4.2" fill="#000000"/>
<rect x="867.10" y="125.67" width="4.2" height="4.2" fill="#000000"/>
<rect x="876.10" y="125.67" width="4.2" height="4.2" fill="#000000"/>
<rect x="885.10" y="129.77" width="4.2" height="4.2" fill="#000000"/>
<rect x="894.10" y="133.60" width="4.2" height="4.2" fill="#000000"/>
<rect x="903.10" y="135.14" width="4.2" height="4.2" fill="#000000"/>
<rect x="912.10" y="140.25" width="4.2" height="4.2" fill="#000000"/>
<rect x="921.10" y="144.35" width="4.2" height="4.2" fill="#000000"/>
<rect x="930.10" y="145.37" width="4.2" height="4.2" fill="#000000"/>
<rect x="939.10" y="147.67" width="4.2" height="4.2" fill="#000000"/>
<rect x="948.10" y="150.74" width="4.2" height="4.2" fill="#000000"/>
<rect x="957.10" y="150.74" width="4.2" height="4.2" fill="#000000"/>
<rect x="966.10" y="157.14" width="4.2" height="4.2" fill="#000000"/>
<rect x="975.10" y="157.14" width="4.2" height="4.2" fill="#000000"/>
<rect x="984.10" y="162.51" width="4.2" height="4.2" fill="#000000"/>
<rect x="993.10" y="162.51" width="4.2" height="4.2" fill="#000000"/>
<rect x="999.10" y="163.79" width="4.2" height="4.2" fill="#000000"/>
<polyline points="734.20,45.40 743.20,57.78 752.20,65.16 761.20,69.72 770.20,74.27 779.20,79.27 788.20,84.04 797.20,88.60 806.20,91.21 815.20,101.41 824.20,105.76 833.20,108.58 842.20,113.35 851.20,115.53 860.20,117.91 869.20,122.69 878.20,125.29 887.20,127.25 896.20,129.85 905.20,134.85 914.20,134.41 923.20,137.24 932.20,139.41 941.20,142.23 950.20,144.40 959.20,146.79 968.20,149.39 977.20,151.78 986.20,154.17 995.20,154.17 1001.20,154.17" fill="none" stroke="#f04040" stroke-width="1.0" />
<circle cx="734.20" cy="45.40" r="2.5" fill="#ff0000"/>
<circle cx="743.20" cy="57.78" r="2.5" fill="#ff0000"/>
<circle cx="752.20" cy="65.16" r="2.5" fill="#ff0000"/>
<circle cx="761.20" cy="69.72" r="2.5" fill="#ff0000"/>
<circle cx="770.20" cy="74.27" r="2.5" fill="#ff0000"/>
<circle cx="779.20" cy="79.27" r="2.5" fill="#ff0000"/>
<circle cx="788.20" cy="84.04" r="2.5" fill="#ff0000"/>
<circle cx="797.20" cy="88.60" r="2.5" fill="#ff0000"/>
<circle cx="806.20" cy="91.21" r="2.5" fill="#ff0000"/>
<circle cx="815.20" cy="101.41" r="2.5" fill="#ff0000"/>
<circle cx="824.20" cy="105.76" r="2.5" fill="#ff0000"/>
<circle cx="833.20" cy="108.58" r="2.5" fill="#ff0000"/>
<circle cx="842.20" cy="113.35" r="2.5" fill="#ff0000"/>
<circle cx="851.20" cy="115.53" r="2.5" fill="#ff0000"/>
<circle cx="860.20" cy="117.91" r="2.5" fill="#ff0000"/>
<circle cx="869.20" cy="122.69" r="2.5" fill="#ff0000"/>
<circle cx="878.20" cy="125.29" r="2.5" fill="#ff0000"/>
<circle cx="887.20" cy="127.25" r="2.5" fill="#ff0000"/>
<circle cx="896.20" cy="129.85" r="2.5" fill="#ff0000"/>
<circle cx="905.20" cy="134.85" r="2.5" fill="#ff0000"/>
<circle cx="914.20" cy="134.41" r="2.5" fill="#ff0000"/>
<circle cx="923.20" cy="137.24" r="2.5" fill="#ff0000"/>
<circle cx="932.20" cy="139.41" r="2.5" fill="#ff0000"/>
<circle cx="941.20" cy="142.23" r="2.5" fill="#ff0000"/>
<circle cx="950.20" cy="144.40" r="2.5" fill="#ff0000"/>
<circle cx="959.20" cy="146.79" r="2.5" fill="#ff0000"/>
<circle cx="968.20" cy="149.39" r="2.5" fill="#ff0000"/>
<circle cx="977.20" cy="151.78" r="2.5" fill="#ff0000"/>
<circle cx="986.20" cy="154.17" r="2.5" fill="#ff0000"/>
<circle cx="995.20" cy="154.17" r="2.5" fill="#ff0000"/>
<circle cx="1001.20" cy="154.17" r="2.5" fill="#ff0000"/>
<polyline points="734.20,45.40 743.20,50.74 752.20,56.41 761.20,62.08 770.20,65.31 779.20,67.74 788.20,70.98 797.20,73.41 806.20,79.07 815.20,81.02 824.20,85.06 833.20,83.12 842.20,90.41 851.20,94.13 860.20,96.07 869.20,97.37 878.20,100.28 887.20,101.90 896.20,107.41 905.20,107.89 914.20,113.23 923.20,114.85 932.20,118.90 941.20,115.83 950.20,118.42 959.20,120.36 968.20,119.23 977.20,121.49 986.20,122.14 995.20,124.41 1001.20,125.05" fill="none" stroke="#4040f0" stroke-width="1.0" />
<path d="M734.20 42.80 L737.10 48.00 L731.30 48.00 Z" fill="#0000ff"/>
<path d="M743.20 48.14 L746.10 53.34 L740.30 53.34 Z" fill="#0000ff"/>
<path d="M752.20 53.81 L755.10 59.01 L749.30 59.01 Z" fill="#0000ff"/>
<path d="M761.20 59.48 L764.10 64.68 L758.30 64.68 Z" fill="#0000ff"/>
<path d="M770.20 62.71 L773.10 67.91 L767.30 67.91 Z" fill="#0000ff"/>
<path d="M779.20 65.14 L782.10 70.34 L776.30 70.34 Z" fill="#0000ff"/>
<path d="M788.20 68.38 L791.10 73.58 L785.30 73.58 Z" fill="#0000ff"/>
<path d="M797.20 70.81 L800.10 76.01 L794.30 76.01 Z" fill="#0000ff"/>
<path d="M806.20 76.47 L809.10 81.67 L803.30 81.67 Z" fill="#0000ff"/>
<path d="M815.20 78.42 L818.10 83.62 L812.30 83.62 Z" fill="#0000ff"/>
<path d="M824.20 82.46 L827.10 87.66 L821.30 87.66 Z" fill="#0000ff"/>
<path d="M833.20 80.52 L836.10 85.72 L830.30 85.72 Z" fill="#0000ff"/>
<path d="M842.20 87.81 L845.10 93.01 L839.30 93.01 Z" fill="#0000ff"/>
<path d="M851.20 91.53 L854.10 96.73 L848.30 96.73 Z" fill="#0000ff"/>
<path d="M860.20 93.47 L863.10 98.67 L857.30 98.67 Z" fill="#0000ff"/>
<path d="M869.20 94.77 L872.10 99.97 L866.30 99.97 Z" fill="#0000ff"/>
<path d="M878.20 97.68 L881.10 102.88 L875.30 102.88 Z" fill="#0000ff"/>
<path d="M887.20 99.30 L890.10 104.50 L884.30 104.50 Z" fill="#0000ff"/>
<path d="M896.20 104.81 L899.10 110.01 L893.30 110.01 Z" fill="#0000ff"/>
<path d="M905.20 105.29 L908.10 110.49 L902.30 110.49 Z" fill="#0000ff"/>
<path d="M914.20 110.63 L917.10 115.83 L911.30 115.83 Z" fill="#0000ff"/>
<path d="M923.20 112.25 L926.10 117.45 L920.30 117.45 Z" fill="#0000ff"/>
<path d="M932.20 116.30 L935.10 121.50 L929.30 121.50 Z" fill="#0000ff"/>
<path d="M941.20 113.23 L944.10 118.43 L938.30 118.43 Z" fill="#0000ff"/>
<path d="M950.20 115.82 L953.10 121.02 L947.30 121.02 Z" fill="#0000ff"/>
<path d="M959.20 117.76 L962.10 122.96 L956.30 122.96 Z" fill="#0000ff"/>
<path d="M968.20 116.63 L971.10 121.83 L965.30 121.83 Z" fill="#0000ff"/>
<path d="M977.20 118.89 L980.10 124.09 L974.30 124.09 Z" fill="#0000ff"/>
<path d="M986.20 119.54 L989.10 124.74 L983.30 124.74 Z" fill="#0000ff"/>
<path d="M995.20 121.81 L998.10 127.01 L992.30 127.01 Z" fill="#0000ff"/>
<path d="M1001.20 122.45 L1004.10 127.65 L998.30 127.65 Z" fill="#0000ff"/>
<line x1="943.20" y1="44.80" x2="965.30" y2="44.80" stroke="#777" stroke-width="1.0" />
<rect x="951.90" y="42.70" width="4.2" height="4.2" fill="#000000"/>
<g transform="translate(969.80,48.20) scale(1.0,1.1)"><text x="0" y="0" font-family='"Liberation Sans", sans-serif' font-size="13.6" font-weight="bold" text-anchor="start" fill="#000">LiOH</text></g>
<line x1="943.20" y1="62.00" x2="965.30" y2="62.00" stroke="#f06060" stroke-width="1.0" />
<circle cx="954.00" cy="62.00" r="2.5" fill="#ff0000"/>
<g transform="translate(969.80,65.40) scale(1.0,1.1)"><text x="0" y="0" font-family='"Liberation Sans", sans-serif' font-size="13.6" font-weight="bold" text-anchor="start" fill="#000">NaOH</text></g>
<line x1="943.20" y1="79.00" x2="965.30" y2="79.00" stroke="#7878e8" stroke-width="1.0" />
<path d="M954.00 76.40 L956.90 81.60 L951.10 81.60 Z" fill="#0000ff"/>
<g transform="translate(969.80,82.40) scale(1.0,1.1)"><text x="0" y="0" font-family='"Liberation Sans", sans-serif' font-size="13.6" font-weight="bold" text-anchor="start" fill="#000">KOH</text></g>
<g transform="translate(689.60,137.20) rotate(-90) scale(1.05,1.0)"><text x="0" y="0" font-family='"Liberation Sans", sans-serif' font-size="13.3" font-weight="bold" text-anchor="middle">Capacity Retention</text></g>
<g transform="translate(6.00,274.80) scale(0.94,1.0)"><text x="0" y="0" font-family='"Liberation Serif", serif' font-size="34" font-weight="bold" text-anchor="start" fill="#000">d</text></g>
<rect x="51.50" y="285.50" width="279.50" height="208.00" fill="none" stroke="#2a2a2a" stroke-width="1.3"/>
<line x1="59.70" y1="493.50" x2="59.70" y2="497.70" stroke="#2a2a2a" stroke-width="1.3" />
<line x1="110.61" y1="493.50" x2="110.61" y2="497.70" stroke="#2a2a2a" stroke-width="1.3" />
<line x1="161.52" y1="493.50" x2="161.52" y2="497.70" stroke="#2a2a2a" stroke-width="1.3" />
<line x1="212.43" y1="493.50" x2="212.43" y2="497.70" stroke="#2a2a2a" stroke-width="1.3" />
<line x1="263.34" y1="493.50" x2="263.34" y2="497.70" stroke="#2a2a2a" stroke-width="1.3" />
<line x1="314.25" y1="493.50" x2="314.25" y2="497.70" stroke="#2a2a2a" stroke-width="1.3" />
<line x1="85.16" y1="493.50" x2="85.16" y2="496.10" stroke="#2a2a2a" stroke-width="1.3" />
<line x1="136.06" y1="493.50" x2="136.06" y2="496.10" stroke="#2a2a2a" stroke-width="1.3" />
<line x1="186.98" y1="493.50" x2="186.98" y2="496.10" stroke="#2a2a2a" stroke-width="1.3" />
<line x1="237.88" y1="493.50" x2="237.88" y2="496.10" stroke="#2a2a2a" stroke-width="1.3" />
<line x1="288.80" y1="493.50" x2="288.80" y2="496.10" stroke="#2a2a2a" stroke-width="1.3" />
<g transform="translate(60.10,511.00) scale(1.0,1.1)"><text x="0" y="0" font-family='"Liberation Sans", sans-serif' font-size="13.6" font-weight="bold" text-anchor="middle" fill="#000">0</text></g>
<g transform="translate(111.01,511.00) scale(1.0,1.1)"><text x="0" y="0" font-family='"Liberation Sans", sans-serif' font-size="13.6" font-weight="bold" text-anchor="middle" fill="#000">30</text></g>
<g transform="translate(161.92,511.00) scale(1.0,1.1)"><text x="0" y="0" font-family='"Liberation Sans", sans-serif' font-size="13.6" font-weight="bold" text-anchor="middle" fill="#000">60</text></g>
<g transform="translate(212.83,511.00) scale(1.0,1.1)"><text x="0" y="0" font-family='"Liberation Sans", sans-serif' font-size="13.6" font-weight="bold" text-anchor="middle" fill="#000">90</text></g>
<g transform="translate(263.74,511.00) scale(1.0,1.1)"><text x="0" y="0" font-family='"Liberation Sans", sans-serif' font-size="13.6" font-weight="bold" text-anchor="middle" fill="#000">120</text></g>
<g transform="translate(314.65,511.00) scale(1.0,1.1)"><text x="0" y="0" font-family='"Liberation Sans", sans-serif' font-size="13.6" font-weight="bold" text-anchor="middle" fill="#000">150</text></g>
<line x1="47.30" y1="302.60" x2="51.50" y2="302.60" stroke="#2a2a2a" stroke-width="1.3" />
<line x1="47.30" y1="337.30" x2="51.50" y2="337.30" stroke="#2a2a2a" stroke-width="1.3" />
<line x1="47.30" y1="372.00" x2="51.50" y2="372.00" stroke="#2a2a2a" stroke-width="1.3" />
<line x1="47.30" y1="406.70" x2="51.50" y2="406.70" stroke="#2a2a2a" stroke-width="1.3" />
<line x1="47.30" y1="441.40" x2="51.50" y2="441.40" stroke="#2a2a2a" stroke-width="1.3" />
<line x1="47.30" y1="476.10" x2="51.50" y2="476.10" stroke="#2a2a2a" stroke-width="1.3" />
<line x1="48.90" y1="285.25" x2="51.50" y2="285.25" stroke="#2a2a2a" stroke-width="1.3" />
<line x1="48.90" y1="319.95" x2="51.50" y2="319.95" stroke="#2a2a2a" stroke-width="1.3" />
<line x1="48.90" y1="354.65" x2="51.50" y2="354.65" stroke="#2a2a2a" stroke-width="1.3" />
<line x1="48.90" y1="389.35" x2="51.50" y2="389.35" stroke="#2a2a2a" stroke-width="1.3" />
<line x1="48.90" y1="424.05" x2="51.50" y2="424.05" stroke="#2a2a2a" stroke-width="1.3" />
<line x1="48.90" y1="458.75" x2="51.50" y2="458.75" stroke="#2a2a2a" stroke-width="1.3" />
<line x1="48.90" y1="493.45" x2="51.50" y2="493.45" stroke="#2a2a2a" stroke-width="1.3" />
<g transform="translate(44.50,306.80) scale(1.0,1.1)"><text x="0" y="0" font-family='"Liberation Sans", sans-serif' font-size="13.6" font-weight="bold" text-anchor="end" fill="#000">0.0</text></g>
<g transform="translate(44.50,341.50) scale(1.0,1.1)"><text x="0" y="0" font-family='"Liberation Sans", sans-serif' font-size="13.6" font-weight="bold" text-anchor="end" fill="#000">-0.2</text></g>
<g transform="translate(44.50,376.20) scale(1.0,1.1)"><text x="0" y="0" font-family='"Liberation Sans", sans-serif' font-size="13.6" font-weight="bold" text-anchor="end" fill="#000">-0.4</text></g>
<g transform="translate(44.50,410.90) scale(1.0,1.1)"><text x="0" y="0" font-family='"Liberation Sans", sans-serif' font-size="13.6" font-weight="bold" text-anchor="end" fill="#000">-0.6</text></g>
<g transform="translate(44.50,445.60) scale(1.0,1.1)"><text x="0" y="0" font-family='"Liberation Sans", sans-serif' font-size="13.6" font-weight="bold" text-anchor="end" fill="#000">-0.8</text></g>
<g transform="translate(44.50,480.30) scale(1.0,1.1)"><text x="0" y="0" font-family='"Liberation Sans", sans-serif' font-size="13.6" font-weight="bold" text-anchor="end" fill="#000">-1.0</text></g>
<g transform="translate(186.90,523.70) scale(1.0,1.1)"><text x="0" y="0" font-family='"Liberation Sans", sans-serif' font-size="14" font-weight="bold" text-anchor="middle" fill="#000">Time (s)</text></g>
<g transform="translate(18.50,383.30) rotate(-90) scale(1.07,1.0)"><text x="0" y="0" font-family='"Liberation Sans", sans-serif' font-size="13.3" font-weight="bold" text-anchor="middle">Potential (V)</text></g>
<g transform="translate(57.10,303.20) scale(1.0,1.07)"><text x="0" y="0" font-family='"Liberation Sans", sans-serif' font-size="13.7" font-weight="bold" text-anchor="start" fill="#000">1 M LiOH</text></g>
<path d="M60.80 476.20 L60.92 472.56 L61.04 468.91 L61.16 465.23 L61.29 461.56 L61.41 457.89 L61.53 454.24 L61.65 450.61 L61.77 447.02 L61.88 443.48 L62.00 440.00 L62.10 436.83 L62.19 433.64 L62.28 430.44 L62.36 427.25 L62.45 424.12 L62.54 421.05 L62.64 418.08 L62.74 415.23 L62.86 412.53 L63.00 410.00 L63.10 408.35 L63.19 406.75 L63.29 405.20 L63.39 403.69 L63.49 402.24 L63.61 400.86 L63.73 399.53 L63.87 398.28 L64.03 397.10 L64.20 396.00 L64.31 395.35 L64.41 394.73 L64.50 394.13 L64.60 393.55 L64.70 393.01 L64.83 392.49 L64.97 392.00 L65.14 391.54 L65.35 391.10 L65.60 390.70 L65.85 390.39 L66.12 390.10 L66.41 389.85 L66.73 389.62 L67.06 389.40 L67.40 389.20 L67.76 389.00 L68.14 388.81 L68.51 388.61 L68.90 388.40 L69.42 388.13 L70.02 387.87 L70.66 387.60 L71.32 387.34 L71.99 387.09 L72.64 386.84 L73.25 386.60 L73.79 386.37 L74.25 386.14 L74.60 385.93 L74.71 385.85 L74.80 385.76 L74.88 385.68 L74.95 385.60 L75.01 385.53 L75.07 385.45 L75.12 385.37 L75.18 385.29 L75.24 385.22 L75.31 385.14 L75.38 385.06 L75.45 384.98 L75.52 384.90 L75.59 384.82 L75.66 384.74 L75.73 384.66 L75.80 384.58 L75.87 384.50 L75.94 384.42 L76.01 384.34 L76.08 384.26 L76.15 384.18 L76.22 384.10 L76.29 384.02 L76.37 383.94 L76.44 383.86 L76.51 383.78 L76.58 383.70 L76.65 383.62 L76.72 383.54 L76.79 383.46 L76.86 383.38 L76.93 383.30 L77.00 383.22 L77.07 383.14 L77.14 383.06 L77.21 382.98 L77.28 382.90 L77.35 382.82 L77.42 382.74 L77.50 382.65 L77.57 382.57 L77.64 382.49 L77.71 382.41 L77.78 382.33 L77.85 382.25 L77.92 382.17 L77.99 382.08 L78.06 382.00 L78.13 381.92 L78.20 381.84 L78.27 381.75 L78.34 381.67 L78.41 381.59 L78.48 381.51 L78.55 381.42 L78.63 381.34 L78.70 381.26 L78.77 381.18 L78.84 381.09 L78.91 381.01 L78.98 380.93 L79.05 380.84 L79.12 380.76 L79.19 380.67 L79.26 380.59 L79.33 380.51 L79.40 380.42 L79.47 380.34 L79.54 380.25 L79.61 380.17 L79.68 380.08 L79.76 380.00 L79.83 379.91 L79.90 379.83 L79.97 379.74 L80.04 379.66 L80.11 379.57 L80.18 379.48 L80.25 379.40 L80.32 379.31 L80.39 379.22 L80.46 379.14 L80.53 379.05 L80.60 378.96 L80.67 378.88 L80.74 378.79 L80.81 378.70 L80.88 378.61 L80.96 378.53 L81.03 378.44 L81.10 378.35 L81.17 378.26 L81.24 378.17 L81.31 378.08 L81.38 377.99 L81.45 377.90 L81.52 377.81 L81.59 377.73 L81.66 377.64 L81.73 377.54 L81.80 377.45 L81.87 377.36 L81.94 377.27 L82.01 377.18 L82.09 377.09 L82.16 377.00 L82.23 376.91 L82.30 376.81 L82.37 376.72 L82.44 376.63 L82.51 376.54 L82.58 376.44 L82.65 376.35 L82.72 376.26 L82.79 376.16 L82.86 376.07 L82.93 375.98 L83.00 375.88 L83.07 375.79 L83.14 375.69 L83.22 375.60 L83.29 375.50 L83.36 375.41 L83.43 375.31 L83.50 375.21 L83.57 375.12 L83.64 375.02 L83.71 374.92 L83.78 374.83 L83.85 374.73 L83.92 374.63 L83.99 374.53 L84.06 374.43 L84.13 374.33 L84.20 374.24 L84.27 374.14 L84.35 374.04 L84.42 373.94 L84.49 373.84 L84.56 373.74 L84.63 373.64 L84.70 373.53 L84.77 373.43 L84.84 373.33 L84.91 373.23 L84.98 373.13 L85.05 373.02 L85.12 372.92 L85.19 372.82 L85.26 372.72 L85.33 372.61 L85.40 372.51 L85.48 372.40 L85.55 372.30 L85.62 372.19 L85.69 372.09 L85.76 371.98 L85.83 371.88 L85.90 371.77 L85.97 371.66 L86.04 371.55 L86.11 371.45 L86.18 371.34 L86.25 371.23 L86.32 371.12 L86.39 371.01 L86.46 370.90 L86.53 370.80 L86.60 370.69 L86.68 370.58 L86.75 370.46 L86.82 370.35 L86.89 370.24 L86.96 370.13 L87.03 370.02 L87.10 369.91 L87.17 369.79 L87.24 369.68 L87.31 369.57 L87.38 369.45 L87.45 369.34 L87.52 369.22 L87.59 369.11 L87.66 368.99 L87.73 368.88 L87.81 368.76 L87.88 368.64 L87.95 368.53 L88.02 368.41 L88.09 368.29 L88.16 368.17 L88.23 368.05 L88.30 367.93 L88.37 367.81 L88.44 367.69 L88.51 367.57 L88.58 367.45 L88.65 367.33 L88.72 367.21 L88.79 367.09 L88.86 366.97 L88.94 366.84 L89.01 366.72 L89.08 366.60 L89.15 366.47 L89.22 366.35 L89.29 366.22 L89.36 366.10 L89.43 365.97 L89.50 365.85 L89.57 365.72 L89.64 365.59 L89.71 365.46 L89.78 365.34 L89.85 365.21 L89.92 365.08 L89.99 364.95 L90.06 364.82 L90.13 364.69 L90.21 364.56 L90.28 364.43 L90.35 364.29 L90.42 364.16 L90.49 364.03 L90.56 363.90 L90.63 363.76 L90.70 363.63 L90.77 363.50 L90.84 363.36 L90.91 363.22 L90.98 363.09 L91.05 362.95 L91.12 362.81 L91.20 362.68 L91.27 362.54 L91.34 362.40 L91.41 362.26 L91.48 362.12 L91.55 361.98 L91.62 361.84 L91.69 361.70 L91.76 361.56 L91.83 361.42 L91.90 361.27 L91.97 361.13 L92.04 360.99 L92.11 360.84 L92.18 360.70 L92.25 360.56 L92.32 360.41 L92.40 360.26 L92.47 360.12 L92.54 359.97 L92.61 359.82 L92.68 359.67 L92.75 359.52 L92.82 359.37 L92.89 359.23 L92.96 359.08 L93.03 358.92 L93.10 358.77 L93.17 358.62 L93.24 358.47 L93.31 358.31 L93.38 358.16 L93.45 358.00 L93.52 357.85 L93.60 357.70 L93.67 357.54 L93.74 357.38 L93.81 357.23 L93.88 357.07 L93.95 356.91 L94.02 356.75 L94.09 356.59 L94.16 356.43 L94.23 356.27 L94.30 356.11 L94.37 355.95 L94.44 355.79 L94.51 355.62 L94.58 355.46 L94.66 355.29 L94.73 355.13 L94.80 354.96 L94.87 354.80 L94.94 354.63 L95.01 354.47 L95.08 354.30 L95.15 354.13 L95.22 353.96 L95.29 353.79 L95.36 353.62 L95.43 353.45 L95.50 353.28 L95.57 353.11 L95.64 352.93 L95.71 352.76 L95.78 352.59 L95.85 352.41 L95.93 352.24 L96.00 352.06 L96.07 351.88 L96.14 351.71 L96.21 351.53 L96.28 351.35 L96.35 351.17 L96.42 351.00 L96.49 350.82 L96.56 350.63 L96.63 350.45 L96.70 350.27 L96.77 350.09 L96.84 349.90 L96.91 349.72 L96.99 349.53 L97.06 349.35 L97.13 349.16 L97.20 348.98 L97.27 348.79 L97.34 348.60 L97.41 348.41 L97.48 348.22 L97.55 348.03 L97.62 347.84 L97.69 347.65 L97.76 347.46 L97.83 347.27 L97.90 347.07 L97.97 346.88 L98.04 346.68 L98.12 346.49 L98.19 346.29 L98.26 346.09 L98.33 345.89 L98.40 345.70 L98.47 345.50 L98.54 345.30 L98.61 345.10 L98.68 344.90 L98.75 344.69 L98.82 344.49 L98.89 344.29 L98.96 344.08 L99.03 343.88 L99.10 343.67 L99.17 343.47 L99.24 343.26 L99.31 343.05 L99.39 342.84 L99.46 342.63 L99.53 342.42 L99.60 342.21 L99.67 342.00 L99.74 341.79 L99.81 341.58 L99.88 341.36 L99.95 341.15 L100.02 340.94 L100.09 340.72 L100.16 340.50 L100.23 340.28 L100.30 340.06 L100.37 339.85 L100.45 339.63 L100.52 339.41 L100.59 339.19 L100.66 338.96 L100.73 338.74 L100.80 338.52 L100.87 338.29 L100.94 338.07 L101.01 337.84 L101.08 337.62 L101.15 337.39 L101.22 337.16 L101.29 336.94 L101.36 336.71 L101.43 336.48 L101.50 336.25 L101.57 336.02 L101.65 335.79 L101.72 335.56 L101.79 335.32 L101.86 335.09 L101.93 334.86 L102.00 334.62 L102.07 334.39 L102.14 334.16 L102.21 333.92 L102.28 333.68 L102.35 333.45 L102.42 333.21 L102.49 332.97 L102.56 332.74 L102.63 332.50 L102.70 332.26 L102.77 332.02 L102.84 331.78 L102.92 331.54 L102.99 331.30 L103.06 331.06 L103.13 330.82 L103.20 330.58 L103.27 330.34 L103.34 330.09 L103.41 329.85 L103.48 329.61 L103.55 329.37 L103.62 329.12 L103.69 328.88 L103.76 328.64 L103.83 328.39 L103.90 328.15 L103.98 327.90 L104.05 327.66 L104.12 327.41 L104.19 327.17 L104.26 326.92 L104.33 326.68 L104.40 326.43 L104.47 326.18 L104.54 325.94 L104.61 325.69 L104.68 325.44 L104.75 325.19 L104.82 324.95 L104.89 324.70 L104.96 324.45 L105.03 324.21 L105.10 323.96 L105.18 323.71 L105.25 323.46 L105.32 323.21 L105.39 322.97 L105.46 322.72 L105.53 322.47 L105.60 322.22 L105.67 321.97 L105.74 321.73 L105.81 321.48 L105.88 321.23 L105.95 320.98 L106.02 320.73 L106.09 320.48 L106.16 320.24 L106.23 319.99 L106.30 319.74 L106.38 319.49 L106.45 319.24 L106.52 319.00 L106.59 318.75 L106.66 318.50 L106.73 318.25 L106.80 318.01 L106.87 317.76 L106.94 317.51 L107.01 317.26 L107.08 317.02 L107.15 316.77 L107.22 316.53 L107.29 316.28 L107.36 316.03 L107.43 315.79 L107.50 315.54 L107.58 315.30 L107.65 315.05 L107.72 314.81 L107.79 314.57 L107.86 314.32 L107.94 314.08 L108.02 313.84 L108.09 313.60 L108.17 313.36 L108.25 313.12 L108.32 312.88 L108.38 312.64 L108.44 312.39 L108.49 312.15 L108.53 311.92 L108.57 311.68 L108.59 311.45 L108.61 311.21 L108.63 310.98 L108.64 310.74 L108.65 310.51 L108.67 310.27 L108.68 310.04 L108.70 309.80 L109.70 310.30 L109.80 314.91 L109.89 319.52 L109.98 324.14 L110.07 328.76 L110.17 333.37 L110.26 337.99 L110.36 342.59 L110.47 347.18 L110.58 351.75 L110.70 356.30 L110.83 360.80 L110.98 365.42 L111.15 370.09 L111.31 374.78 L111.48 379.41 L111.65 383.95 L111.81 388.33 L111.96 392.50 L112.09 396.41 L112.20 400.00 L112.25 402.15 L112.29 404.23 L112.31 406.22 L112.33 408.14 L112.34 409.98 L112.36 411.74 L112.39 413.42 L112.44 415.02 L112.51 416.55 L112.60 418.00 L112.67 418.90 L112.72 419.78 L112.78 420.63 L112.84 421.45 L112.92 422.23 L113.00 422.97 L113.11 423.68 L113.24 424.33 L113.40 424.94 L113.60 425.50 L113.74 425.84 L113.89 426.17 L114.05 426.48 L114.22 426.78 L114.40 427.06 L114.59 427.31 L114.79 427.54 L115.01 427.73 L115.25 427.89 L115.50 428.00 L115.82 428.07 L116.16 428.08 L116.52 428.03 L116.91 427.94 L117.31 427.82 L117.73 427.67 L118.16 427.50 L118.60 427.33 L119.05 427.16 L119.50 427.00 L120.16 426.77 L120.84 426.48 L121.56 426.17 L122.29 425.83 L123.05 425.47 L123.82 425.13 L124.61 424.79 L125.40 424.48 L126.20 424.22 L127.00 424.00 L127.87 423.81 L128.77 423.62 L129.71 423.45 L130.65 423.31 L131.61 423.19 L132.55 423.11 L133.47 423.08 L134.36 423.09 L135.21 423.17 L136.00 423.30 L136.61 423.46 L137.19 423.67 L137.74 423.93 L138.27 424.21 L138.79 424.52 L139.30 424.86 L139.80 425.21 L140.30 425.57 L140.79 425.94 L141.30 426.30 L141.83 426.70 L142.35 427.13 L142.86 427.58 L143.36 428.05 L143.85 428.53 L144.36 429.01 L144.87 429.48 L145.39 429.94 L145.93 430.38 L146.50 430.80 L147.14 431.20 L147.82 431.57 L148.54 431.91 L149.27 432.23 L150.00 432.55 L150.73 432.88 L151.44 433.23 L152.11 433.61 L152.74 434.03 L153.30 434.50 L153.79 434.99 L154.24 435.50 L154.66 436.04 L155.06 436.60 L155.43 437.18 L155.77 437.79 L156.10 438.43 L156.41 439.09 L156.71 439.78 L157.00 440.50 L157.35 441.50 L157.66 442.57 L157.93 443.69 L158.18 444.87 L158.39 446.08 L158.59 447.33 L158.77 448.61 L158.95 449.90 L159.12 451.20 L159.30 452.50 L159.50 454.04 L159.68 455.63 L159.84 457.25 L159.99 458.90 L160.13 460.58 L160.26 462.27 L160.39 463.96 L160.52 465.66 L160.66 467.34 L160.80 469.00" fill="none" stroke="#000000" stroke-width="2.5" stroke-linejoin="round" stroke-linecap="butt"/>
<path d="M60.80 476.20 L60.92 472.56 L61.04 468.91 L61.16 465.23 L61.29 461.56 L61.41 457.89 L61.53 454.24 L61.65 450.61 L61.77 447.02 L61.88 443.48 L62.00 440.00 L62.10 436.81 L62.21 433.56 L62.31 430.29 L62.41 427.03 L62.52 423.82 L62.62 420.71 L62.72 417.73 L62.81 414.93 L62.91 412.34 L63.00 410.00 L63.05 408.77 L63.09 407.62 L63.12 406.54 L63.16 405.51 L63.19 404.53 L63.23 403.58 L63.28 402.67 L63.34 401.77 L63.41 400.89 L63.50 400.00 L63.57 399.27 L63.63 398.54 L63.69 397.82 L63.75 397.10 L63.82 396.41 L63.92 395.74 L64.03 395.11 L64.18 394.52 L64.37 393.98 L64.60 393.50 L64.80 393.19 L65.01 392.92 L65.24 392.67 L65.48 392.44 L65.74 392.23 L66.01 392.04 L66.30 391.85 L66.61 391.67 L66.92 391.49 L67.25 391.30 L67.73 391.05 L68.28 390.80 L68.87 390.55 L69.50 390.31 L70.14 390.09 L70.77 389.88 L71.38 389.69 L71.95 389.52 L72.46 389.38 L72.90 389.27 L73.09 389.23 L73.27 389.19 L73.44 389.17 L73.59 389.15 L73.74 389.13 L73.89 389.12 L74.03 389.11 L74.17 389.10 L74.32 389.08 L74.47 389.06 L74.63 389.04 L74.79 389.01 L74.94 388.99 L75.10 388.96 L75.26 388.93 L75.41 388.91 L75.57 388.88 L75.73 388.85 L75.89 388.83 L76.04 388.80 L76.20 388.77 L76.36 388.74 L76.51 388.71 L76.67 388.68 L76.83 388.64 L76.99 388.61 L77.14 388.58 L77.30 388.55 L77.46 388.51 L77.61 388.48 L77.77 388.45 L77.93 388.41 L78.09 388.38 L78.24 388.34 L78.40 388.30 L78.56 388.26 L78.71 388.23 L78.87 388.19 L79.03 388.15 L79.19 388.11 L79.34 388.07 L79.50 388.03 L79.66 387.99 L79.82 387.95 L79.97 387.91 L80.13 387.86 L80.29 387.82 L80.44 387.78 L80.60 387.73 L80.76 387.69 L80.91 387.64 L81.07 387.60 L81.23 387.55 L81.39 387.50 L81.54 387.45 L81.70 387.41 L81.86 387.36 L82.01 387.31 L82.17 387.26 L82.33 387.21 L82.49 387.16 L82.64 387.11 L82.80 387.05 L82.96 387.00 L83.12 386.95 L83.27 386.89 L83.43 386.84 L83.59 386.78 L83.74 386.73 L83.90 386.67 L84.06 386.62 L84.22 386.56 L84.37 386.50 L84.53 386.44 L84.69 386.39 L84.84 386.33 L85.00 386.27 L85.16 386.21 L85.31 386.15 L85.47 386.08 L85.63 386.02 L85.79 385.96 L85.94 385.90 L86.10 385.83 L86.26 385.77 L86.42 385.70 L86.57 385.64 L86.73 385.57 L86.89 385.50 L87.04 385.44 L87.20 385.37 L87.36 385.30 L87.52 385.23 L87.67 385.16 L87.83 385.09 L87.99 385.02 L88.14 384.95 L88.30 384.88 L88.46 384.81 L88.61 384.74 L88.77 384.66 L88.93 384.59 L89.09 384.51 L89.24 384.44 L89.40 384.36 L89.56 384.29 L89.72 384.21 L89.87 384.13 L90.03 384.05 L90.19 383.97 L90.34 383.90 L90.50 383.82 L90.66 383.74 L90.82 383.65 L90.97 383.57 L91.13 383.49 L91.29 383.41 L91.44 383.32 L91.60 383.24 L91.76 383.16 L91.91 383.07 L92.07 382.99 L92.23 382.90 L92.39 382.81 L92.54 382.73 L92.70 382.64 L92.86 382.55 L93.02 382.46 L93.17 382.37 L93.33 382.28 L93.49 382.19 L93.64 382.10 L93.80 382.01 L93.96 381.91 L94.12 381.82 L94.27 381.73 L94.43 381.63 L94.59 381.54 L94.74 381.44 L94.90 381.35 L95.06 381.25 L95.22 381.15 L95.37 381.05 L95.53 380.95 L95.69 380.86 L95.84 380.76 L96.00 380.66 L96.16 380.56 L96.31 380.45 L96.47 380.35 L96.63 380.25 L96.79 380.15 L96.94 380.04 L97.10 379.94 L97.26 379.83 L97.42 379.73 L97.57 379.62 L97.73 379.51 L97.89 379.41 L98.04 379.30 L98.20 379.19 L98.36 379.08 L98.52 378.97 L98.67 378.86 L98.83 378.75 L98.99 378.64 L99.14 378.52 L99.30 378.41 L99.46 378.30 L99.61 378.18 L99.77 378.07 L99.93 377.95 L100.09 377.84 L100.24 377.72 L100.40 377.60 L100.56 377.49 L100.72 377.37 L100.87 377.25 L101.03 377.13 L101.19 377.01 L101.34 376.89 L101.50 376.77 L101.66 376.64 L101.82 376.52 L101.97 376.40 L102.13 376.27 L102.29 376.15 L102.44 376.03 L102.60 375.90 L102.76 375.77 L102.91 375.65 L103.07 375.52 L103.23 375.39 L103.39 375.26 L103.54 375.13 L103.70 375.00 L103.86 374.87 L104.02 374.74 L104.17 374.61 L104.33 374.48 L104.49 374.34 L104.64 374.21 L104.80 374.07 L104.96 373.94 L105.12 373.80 L105.27 373.67 L105.43 373.53 L105.59 373.39 L105.74 373.26 L105.90 373.12 L106.06 372.98 L106.22 372.84 L106.37 372.70 L106.53 372.55 L106.69 372.41 L106.84 372.27 L107.00 372.13 L107.16 371.98 L107.31 371.84 L107.47 371.69 L107.63 371.55 L107.79 371.40 L107.94 371.25 L108.10 371.11 L108.26 370.96 L108.42 370.81 L108.57 370.66 L108.73 370.51 L108.89 370.36 L109.04 370.21 L109.20 370.06 L109.36 369.90 L109.52 369.75 L109.67 369.60 L109.83 369.44 L109.99 369.29 L110.14 369.13 L110.30 368.97 L110.46 368.82 L110.61 368.66 L110.77 368.50 L110.93 368.34 L111.09 368.18 L111.24 368.02 L111.40 367.86 L111.56 367.70 L111.72 367.54 L111.87 367.37 L112.03 367.21 L112.19 367.05 L112.34 366.88 L112.50 366.72 L112.66 366.55 L112.82 366.38 L112.97 366.21 L113.13 366.05 L113.29 365.88 L113.44 365.71 L113.60 365.54 L113.76 365.37 L113.92 365.20 L114.07 365.02 L114.23 364.85 L114.39 364.68 L114.54 364.50 L114.70 364.33 L114.86 364.15 L115.02 363.98 L115.17 363.80 L115.33 363.63 L115.49 363.45 L115.64 363.27 L115.80 363.09 L115.96 362.91 L116.12 362.73 L116.27 362.55 L116.43 362.36 L116.59 362.18 L116.74 362.00 L116.90 361.82 L117.06 361.63 L117.22 361.45 L117.37 361.26 L117.53 361.07 L117.69 360.89 L117.84 360.70 L118.00 360.51 L118.16 360.32 L118.32 360.13 L118.47 359.94 L118.63 359.75 L118.79 359.56 L118.94 359.36 L119.10 359.17 L119.26 358.98 L119.42 358.78 L119.57 358.59 L119.73 358.39 L119.89 358.20 L120.04 358.00 L120.20 357.80 L120.36 357.60 L120.52 357.40 L120.67 357.20 L120.83 357.00 L120.99 356.80 L121.14 356.60 L121.30 356.40 L121.46 356.19 L121.61 355.99 L121.77 355.79 L121.93 355.58 L122.09 355.37 L122.24 355.17 L122.40 354.96 L122.56 354.75 L122.72 354.54 L122.87 354.33 L123.03 354.13 L123.19 353.92 L123.34 353.70 L123.50 353.49 L123.66 353.28 L123.82 353.06 L123.97 352.85 L124.13 352.63 L124.29 352.42 L124.44 352.20 L124.60 351.99 L124.76 351.77 L124.92 351.55 L125.07 351.33 L125.23 351.11 L125.39 350.89 L125.54 350.67 L125.70 350.45 L125.86 350.23 L126.02 350.00 L126.17 349.78 L126.33 349.56 L126.49 349.33 L126.64 349.11 L126.80 348.88 L126.96 348.65 L127.12 348.42 L127.27 348.19 L127.43 347.97 L127.59 347.74 L127.74 347.51 L127.90 347.28 L128.06 347.04 L128.22 346.81 L128.37 346.58 L128.53 346.34 L128.69 346.11 L128.84 345.87 L129.00 345.63 L129.16 345.40 L129.32 345.16 L129.47 344.92 L129.63 344.68 L129.79 344.44 L129.94 344.20 L130.10 343.96 L130.26 343.72 L130.42 343.48 L130.57 343.23 L130.73 342.99 L130.89 342.75 L131.04 342.50 L131.20 342.26 L131.36 342.01 L131.52 341.76 L131.67 341.51 L131.83 341.26 L131.99 341.01 L132.14 340.76 L132.30 340.51 L132.46 340.26 L132.61 340.01 L132.77 339.76 L132.93 339.50 L133.09 339.25 L133.24 338.99 L133.40 338.73 L133.56 338.48 L133.72 338.22 L133.87 337.96 L134.03 337.71 L134.19 337.45 L134.34 337.19 L134.50 336.92 L134.66 336.66 L134.82 336.40 L134.97 336.13 L135.13 335.87 L135.29 335.61 L135.44 335.34 L135.60 335.08 L135.76 334.81 L135.91 334.54 L136.07 334.27 L136.23 334.00 L136.39 333.73 L136.54 333.46 L136.70 333.19 L136.86 332.92 L137.02 332.65 L137.17 332.38 L137.33 332.10 L137.49 331.83 L137.64 331.55 L137.80 331.28 L137.96 331.00 L138.12 330.72 L138.27 330.44 L138.43 330.16 L138.59 329.88 L138.74 329.60 L138.90 329.32 L139.06 329.04 L139.22 328.76 L139.37 328.47 L139.53 328.19 L139.69 327.90 L139.84 327.62 L140.00 327.33 L140.16 327.05 L140.31 326.76 L140.47 326.47 L140.63 326.18 L140.79 325.89 L140.94 325.60 L141.10 325.31 L141.26 325.01 L141.42 324.72 L141.57 324.43 L141.73 324.13 L141.89 323.84 L142.04 323.55 L142.20 323.25 L142.36 322.95 L142.52 322.65 L142.67 322.35 L142.83 322.05 L142.99 321.75 L143.14 321.45 L143.30 321.15 L143.46 320.85 L143.61 320.55 L143.77 320.24 L143.93 319.93 L144.09 319.63 L144.24 319.32 L144.40 319.01 L144.56 318.71 L144.72 318.40 L144.87 318.09 L145.03 317.78 L145.19 317.47 L145.34 317.16 L145.50 316.84 L145.66 316.53 L145.82 316.22 L145.97 315.90 L146.13 315.59 L146.29 315.27 L146.44 314.95 L146.60 314.64 L146.76 314.32 L146.92 314.00 L147.08 313.68 L147.24 313.36 L147.41 313.04 L147.57 312.72 L147.74 312.40 L147.89 312.07 L148.05 311.75 L148.19 311.42 L148.33 311.10 L148.45 310.77 L148.57 310.44 L148.68 310.12 L148.79 309.79 L148.89 309.46 L148.99 309.12 L149.09 308.79 L149.19 308.46 L149.29 308.13 L149.40 307.80 L150.60 308.50 L150.74 313.29 L150.88 318.09 L151.02 322.91 L151.16 327.72 L151.30 332.53 L151.44 337.33 L151.58 342.12 L151.72 346.88 L151.86 351.61 L152.00 356.30 L152.13 360.84 L152.27 365.47 L152.41 370.15 L152.55 374.84 L152.69 379.46 L152.83 383.99 L152.96 388.35 L153.08 392.51 L153.20 396.41 L153.30 400.00 L153.36 402.14 L153.40 404.19 L153.44 406.14 L153.47 408.02 L153.51 409.82 L153.54 411.56 L153.59 413.24 L153.64 414.86 L153.71 416.45 L153.80 418.00 L153.86 419.15 L153.91 420.29 L153.96 421.42 L154.01 422.51 L154.06 423.58 L154.14 424.60 L154.24 425.56 L154.38 426.45 L154.57 427.27 L154.80 428.00 L154.96 428.42 L155.13 428.82 L155.31 429.22 L155.50 429.59 L155.71 429.93 L155.93 430.24 L156.16 430.51 L156.42 430.73 L156.70 430.90 L157.00 431.00 L157.45 431.02 L157.94 430.89 L158.47 430.64 L159.03 430.30 L159.63 429.90 L160.26 429.46 L160.91 429.00 L161.59 428.55 L162.29 428.14 L163.00 427.80 L164.01 427.38 L165.09 426.96 L166.22 426.54 L167.40 426.12 L168.62 425.72 L169.87 425.32 L171.14 424.95 L172.42 424.60 L173.71 424.28 L175.00 424.00 L176.42 423.72 L177.88 423.47 L179.36 423.25 L180.86 423.06 L182.38 422.89 L183.91 422.75 L185.44 422.64 L186.97 422.56 L188.49 422.52 L190.00 422.50 L191.51 422.51 L193.03 422.55 L194.57 422.62 L196.10 422.72 L197.63 422.84 L199.15 423.00 L200.65 423.20 L202.13 423.43 L203.58 423.69 L205.00 424.00 L206.26 424.33 L207.49 424.71 L208.68 425.13 L209.85 425.58 L211.01 426.06 L212.17 426.55 L213.34 427.05 L214.52 427.55 L215.74 428.03 L217.00 428.50 L218.51 429.00 L220.12 429.46 L221.81 429.91 L223.52 430.36 L225.23 430.82 L226.91 431.30 L228.51 431.82 L230.00 432.38 L231.34 433.00 L232.50 433.70 L233.20 434.22 L233.84 434.74 L234.41 435.28 L234.94 435.84 L235.42 436.43 L235.87 437.04 L236.29 437.69 L236.70 438.38 L237.10 439.12 L237.50 439.90 L238.03 441.09 L238.50 442.41 L238.92 443.82 L239.30 445.31 L239.64 446.86 L239.97 448.45 L240.27 450.07 L240.58 451.70 L240.88 453.31 L241.20 454.90 L241.54 456.59 L241.86 458.31 L242.17 460.04 L242.47 461.79 L242.76 463.56 L243.05 465.33 L243.33 467.10 L243.62 468.88 L243.90 470.64 L244.20 472.40" fill="none" stroke="#ff0000" stroke-width="2.5" stroke-linejoin="round" stroke-linecap="butt"/>
<path d="M60.90 476.20 L61.04 471.70 L61.17 467.09 L61.31 462.42 L61.44 457.74 L61.58 453.08 L61.71 448.51 L61.85 444.05 L62.00 439.77 L62.15 435.70 L62.30 431.90 L62.41 429.35 L62.53 426.85 L62.65 424.41 L62.77 422.04 L62.89 419.75 L63.01 417.57 L63.13 415.49 L63.26 413.52 L63.38 411.69 L63.50 410.00 L63.57 409.09 L63.64 408.23 L63.70 407.43 L63.77 406.66 L63.84 405.93 L63.90 405.23 L63.97 404.54 L64.04 403.87 L64.12 403.19 L64.20 402.50 L64.26 401.89 L64.31 401.29 L64.35 400.68 L64.39 400.08 L64.44 399.49 L64.50 398.92 L64.58 398.37 L64.69 397.84 L64.82 397.35 L65.00 396.90 L65.16 396.57 L65.33 396.26 L65.52 395.96 L65.73 395.68 L65.94 395.42 L66.17 395.17 L66.42 394.93 L66.68 394.71 L66.96 394.50 L67.25 394.30 L67.63 394.09 L68.05 393.91 L68.51 393.75 L69.00 393.62 L69.49 393.50 L69.99 393.39 L70.48 393.28 L70.96 393.18 L71.40 393.08 L71.80 392.98 L72.06 392.90 L72.31 392.82 L72.55 392.75 L72.78 392.68 L73.00 392.61 L73.22 392.54 L73.44 392.48 L73.66 392.41 L73.88 392.34 L74.11 392.28 L74.34 392.21 L74.57 392.14 L74.80 392.08 L75.03 392.01 L75.26 391.95 L75.50 391.88 L75.73 391.82 L75.96 391.76 L76.19 391.69 L76.42 391.63 L76.65 391.57 L76.88 391.51 L77.11 391.45 L77.34 391.38 L77.57 391.32 L77.81 391.26 L78.04 391.20 L78.27 391.15 L78.50 391.09 L78.73 391.03 L78.96 390.97 L79.19 390.91 L79.42 390.86 L79.65 390.80 L79.89 390.74 L80.12 390.69 L80.35 390.63 L80.58 390.58 L80.81 390.52 L81.04 390.47 L81.27 390.41 L81.50 390.36 L81.73 390.31 L81.96 390.25 L82.20 390.20 L82.43 390.15 L82.66 390.10 L82.89 390.04 L83.12 389.99 L83.35 389.94 L83.58 389.89 L83.81 389.84 L84.04 389.79 L84.27 389.74 L84.51 389.69 L84.74 389.64 L84.97 389.59 L85.20 389.54 L85.43 389.50 L85.66 389.45 L85.89 389.40 L86.12 389.35 L86.35 389.30 L86.59 389.26 L86.82 389.21 L87.05 389.16 L87.28 389.12 L87.51 389.07 L87.74 389.02 L87.97 388.98 L88.20 388.93 L88.43 388.89 L88.66 388.84 L88.90 388.80 L89.13 388.75 L89.36 388.71 L89.59 388.66 L89.82 388.62 L90.05 388.57 L90.28 388.53 L90.51 388.49 L90.74 388.44 L90.97 388.40 L91.21 388.35 L91.44 388.31 L91.67 388.27 L91.90 388.23 L92.13 388.18 L92.36 388.14 L92.59 388.10 L92.82 388.05 L93.05 388.01 L93.28 387.97 L93.52 387.93 L93.75 387.89 L93.98 387.84 L94.21 387.80 L94.44 387.76 L94.67 387.72 L94.90 387.68 L95.13 387.63 L95.36 387.59 L95.60 387.55 L95.83 387.51 L96.06 387.47 L96.29 387.43 L96.52 387.38 L96.75 387.34 L96.98 387.30 L97.21 387.26 L97.44 387.22 L97.67 387.18 L97.91 387.14 L98.14 387.09 L98.37 387.05 L98.60 387.01 L98.83 386.97 L99.06 386.93 L99.29 386.89 L99.52 386.85 L99.75 386.80 L99.98 386.76 L100.22 386.72 L100.45 386.68 L100.68 386.64 L100.91 386.60 L101.14 386.55 L101.37 386.51 L101.60 386.47 L101.83 386.43 L102.06 386.39 L102.29 386.34 L102.53 386.30 L102.76 386.26 L102.99 386.22 L103.22 386.17 L103.45 386.13 L103.68 386.09 L103.91 386.04 L104.14 386.00 L104.37 385.96 L104.61 385.91 L104.84 385.87 L105.07 385.83 L105.30 385.78 L105.53 385.74 L105.76 385.69 L105.99 385.65 L106.22 385.60 L106.45 385.56 L106.68 385.51 L106.92 385.47 L107.15 385.42 L107.38 385.38 L107.61 385.33 L107.84 385.29 L108.07 385.24 L108.30 385.19 L108.53 385.15 L108.76 385.10 L108.99 385.05 L109.23 385.00 L109.46 384.96 L109.69 384.91 L109.92 384.86 L110.15 384.81 L110.38 384.76 L110.61 384.71 L110.84 384.67 L111.07 384.62 L111.30 384.57 L111.54 384.52 L111.77 384.47 L112.00 384.41 L112.23 384.36 L112.46 384.31 L112.69 384.26 L112.92 384.21 L113.15 384.16 L113.38 384.10 L113.61 384.05 L113.85 384.00 L114.08 383.94 L114.31 383.89 L114.54 383.84 L114.77 383.78 L115.00 383.73 L115.23 383.67 L115.46 383.61 L115.69 383.56 L115.93 383.50 L116.16 383.44 L116.39 383.39 L116.62 383.33 L116.85 383.27 L117.08 383.21 L117.31 383.15 L117.54 383.09 L117.77 383.03 L118.00 382.97 L118.24 382.91 L118.47 382.85 L118.70 382.79 L118.93 382.73 L119.16 382.67 L119.39 382.60 L119.62 382.54 L119.85 382.48 L120.08 382.41 L120.31 382.35 L120.55 382.28 L120.78 382.22 L121.01 382.15 L121.24 382.08 L121.47 382.01 L121.70 381.95 L121.93 381.88 L122.16 381.81 L122.39 381.74 L122.62 381.67 L122.86 381.60 L123.09 381.53 L123.32 381.46 L123.55 381.39 L123.78 381.31 L124.01 381.24 L124.24 381.17 L124.47 381.09 L124.70 381.02 L124.93 380.94 L125.17 380.86 L125.40 380.79 L125.63 380.71 L125.86 380.63 L126.09 380.55 L126.32 380.48 L126.55 380.40 L126.78 380.32 L127.01 380.23 L127.24 380.15 L127.48 380.07 L127.71 379.99 L127.94 379.90 L128.17 379.82 L128.40 379.74 L128.63 379.65 L128.86 379.56 L129.09 379.48 L129.32 379.39 L129.56 379.30 L129.79 379.21 L130.02 379.12 L130.25 379.03 L130.48 378.94 L130.71 378.85 L130.94 378.76 L131.17 378.67 L131.40 378.57 L131.63 378.48 L131.87 378.38 L132.10 378.29 L132.33 378.19 L132.56 378.09 L132.79 377.99 L133.02 377.90 L133.25 377.80 L133.48 377.70 L133.71 377.59 L133.95 377.49 L134.18 377.39 L134.41 377.29 L134.64 377.18 L134.87 377.08 L135.10 376.97 L135.33 376.86 L135.56 376.76 L135.79 376.65 L136.02 376.54 L136.26 376.43 L136.49 376.32 L136.72 376.21 L136.95 376.10 L137.18 375.98 L137.41 375.87 L137.64 375.75 L137.87 375.64 L138.10 375.52 L138.34 375.40 L138.57 375.29 L138.80 375.17 L139.03 375.05 L139.26 374.92 L139.49 374.80 L139.72 374.68 L139.95 374.56 L140.18 374.43 L140.42 374.31 L140.65 374.18 L140.88 374.05 L141.11 373.93 L141.34 373.80 L141.57 373.66 L141.80 373.53 L142.03 373.40 L142.26 373.27 L142.50 373.13 L142.73 373.00 L142.96 372.86 L143.19 372.73 L143.42 372.59 L143.65 372.45 L143.88 372.30 L144.11 372.16 L144.34 372.02 L144.57 371.87 L144.81 371.73 L145.04 371.58 L145.27 371.43 L145.50 371.29 L145.73 371.14 L145.96 370.98 L146.19 370.83 L146.42 370.67 L146.65 370.52 L146.89 370.36 L147.12 370.20 L147.35 370.04 L147.58 369.88 L147.81 369.72 L148.04 369.55 L148.27 369.39 L148.50 369.22 L148.73 369.05 L148.97 368.88 L149.20 368.70 L149.43 368.53 L149.66 368.36 L149.89 368.18 L150.12 368.00 L150.35 367.82 L150.58 367.64 L150.81 367.45 L151.04 367.27 L151.28 367.08 L151.51 366.89 L151.74 366.70 L151.97 366.51 L152.20 366.32 L152.43 366.12 L152.66 365.92 L152.89 365.72 L153.12 365.52 L153.36 365.32 L153.59 365.11 L153.82 364.90 L154.05 364.69 L154.28 364.48 L154.51 364.27 L154.74 364.06 L154.97 363.84 L155.20 363.62 L155.43 363.40 L155.67 363.17 L155.90 362.95 L156.13 362.72 L156.36 362.49 L156.59 362.26 L156.82 362.03 L157.05 361.79 L157.28 361.56 L157.51 361.31 L157.74 361.07 L157.98 360.82 L158.21 360.57 L158.44 360.32 L158.67 360.07 L158.90 359.82 L159.13 359.57 L159.36 359.31 L159.59 359.05 L159.82 358.78 L160.05 358.52 L160.29 358.25 L160.52 357.97 L160.75 357.70 L160.98 357.43 L161.21 357.15 L161.44 356.87 L161.67 356.59 L161.90 356.31 L162.13 356.02 L162.37 355.72 L162.60 355.43 L162.83 355.13 L163.06 354.83 L163.29 354.53 L163.52 354.23 L163.75 353.92 L163.98 353.61 L164.21 353.31 L164.44 352.99 L164.68 352.67 L164.91 352.34 L165.14 352.02 L165.37 351.69 L165.60 351.36 L165.83 351.03 L166.06 350.70 L166.29 350.37 L166.52 350.03 L166.75 349.68 L166.99 349.33 L167.22 348.98 L167.45 348.63 L167.68 348.27 L167.91 347.92 L168.14 347.56 L168.37 347.19 L168.60 346.83 L168.83 346.47 L169.06 346.09 L169.30 345.71 L169.53 345.32 L169.76 344.94 L169.99 344.55 L170.22 344.16 L170.45 343.77 L170.68 343.38 L170.91 342.99 L171.14 342.59 L171.37 342.18 L171.61 341.76 L171.84 341.35 L172.07 340.93 L172.30 340.51 L172.53 340.09 L172.76 339.67 L172.99 339.24 L173.22 338.81 L173.45 338.38 L173.68 337.94 L173.92 337.49 L174.15 337.04 L174.38 336.59 L174.61 336.14 L174.84 335.68 L175.07 335.22 L175.30 334.76 L175.53 334.30 L175.76 333.83 L175.99 333.35 L176.23 332.87 L176.46 332.38 L176.69 331.89 L176.92 331.40 L177.15 330.91 L177.38 330.42 L177.61 329.92 L177.84 329.42 L178.07 328.92 L178.30 328.40 L178.54 327.88 L178.77 327.36 L179.00 326.83 L179.23 326.30 L179.46 325.77 L179.69 325.24 L179.92 324.70 L180.15 324.16 L180.38 323.62 L180.62 323.07 L180.85 322.51 L181.09 321.94 L181.33 321.38 L181.57 320.81 L181.81 320.24 L182.04 319.67 L182.26 319.09 L182.48 318.51 L182.69 317.93 L182.89 317.33 L183.09 316.72 L183.27 316.11 L183.45 315.50 L183.63 314.89 L183.80 314.27 L183.97 313.65 L184.15 313.03 L184.32 312.41 L184.50 311.80 L185.30 312.30 L185.46 316.70 L185.62 321.10 L185.78 325.50 L185.94 329.91 L186.10 334.31 L186.26 338.71 L186.42 343.11 L186.58 347.51 L186.74 351.91 L186.90 356.30 L187.06 360.76 L187.24 365.35 L187.41 370.02 L187.59 374.71 L187.76 379.35 L187.93 383.90 L188.09 388.30 L188.24 392.48 L188.38 396.40 L188.50 400.00 L188.56 402.14 L188.61 404.19 L188.65 406.14 L188.68 408.02 L188.72 409.82 L188.75 411.56 L188.79 413.24 L188.85 414.86 L188.91 416.45 L189.00 418.00 L189.06 419.16 L189.11 420.32 L189.15 421.47 L189.19 422.60 L189.24 423.69 L189.31 424.73 L189.42 425.69 L189.56 426.57 L189.75 427.34 L190.00 428.00 L190.15 428.31 L190.31 428.59 L190.48 428.86 L190.66 429.10 L190.84 429.32 L191.05 429.52 L191.26 429.68 L191.49 429.82 L191.74 429.93 L192.00 430.00 L192.41 430.02 L192.85 429.93 L193.33 429.75 L193.83 429.51 L194.37 429.22 L194.94 428.90 L195.53 428.58 L196.16 428.27 L196.81 428.01 L197.50 427.80 L198.67 427.55 L199.94 427.33 L201.30 427.14 L202.74 426.98 L204.24 426.84 L205.81 426.71 L207.43 426.60 L209.09 426.50 L210.79 426.40 L212.50 426.30 L214.91 426.17 L217.50 426.06 L220.22 425.97 L223.04 425.90 L225.90 425.84 L228.79 425.80 L231.64 425.77 L234.42 425.77 L237.08 425.78 L239.60 425.80 L241.55 425.84 L243.45 425.89 L245.31 425.96 L247.14 426.05 L248.93 426.14 L250.68 426.23 L252.40 426.33 L254.10 426.43 L255.76 426.52 L257.40 426.60 L258.76 426.66 L260.08 426.71 L261.39 426.76 L262.67 426.81 L263.94 426.85 L265.18 426.91 L266.41 426.96 L267.62 427.03 L268.82 427.11 L270.00 427.20 L271.04 427.29 L272.05 427.38 L273.06 427.47 L274.05 427.56 L275.03 427.67 L276.00 427.78 L276.96 427.91 L277.91 428.06 L278.86 428.22 L279.80 428.40 L280.69 428.59 L281.57 428.79 L282.44 428.99 L283.30 429.22 L284.16 429.45 L285.01 429.70 L285.85 429.97 L286.68 430.26 L287.49 430.57 L288.30 430.90 L289.08 431.24 L289.84 431.59 L290.61 431.96 L291.36 432.35 L292.10 432.75 L292.83 433.18 L293.54 433.62 L294.24 434.09 L294.93 434.58 L295.60 435.10 L296.28 435.67 L296.93 436.28 L297.58 436.91 L298.20 437.57 L298.81 438.26 L299.41 438.95 L300.00 439.66 L300.58 440.38 L301.14 441.09 L301.70 441.80 L302.24 442.50 L302.76 443.20 L303.28 443.91 L303.78 444.63 L304.27 445.35 L304.75 446.08 L305.22 446.82 L305.69 447.57 L306.15 448.33 L306.60 449.10 L307.07 449.92 L307.53 450.75 L307.99 451.60 L308.44 452.46 L308.88 453.33 L309.31 454.20 L309.73 455.08 L310.13 455.95 L310.52 456.83 L310.90 457.70 L311.25 458.55 L311.58 459.41 L311.89 460.27 L312.20 461.14 L312.49 462.00 L312.78 462.86 L313.06 463.72 L313.34 464.56 L313.62 465.39 L313.90 466.20 L314.15 466.90 L314.40 467.59 L314.64 468.27 L314.88 468.94 L315.12 469.60 L315.35 470.26 L315.59 470.92 L315.82 471.57 L316.06 472.23 L316.30 472.90" fill="none" stroke="#0000ff" stroke-width="2.5" stroke-linejoin="round" stroke-linecap="butt"/>
<line x1="274.90" y1="295.30" x2="296.80" y2="295.30" stroke="#000000" stroke-width="2.8" stroke-linecap="round"/>
<g transform="translate(301.10,298.80) scale(1.0,1.1)"><text x="0" y="0" font-family='"Liberation Sans", sans-serif' font-size="13.3" font-weight="bold" text-anchor="start" fill="#000">90th</text></g>
<line x1="274.90" y1="312.80" x2="296.80" y2="312.80" stroke="#ff0000" stroke-width="2.8" stroke-linecap="round"/>
<g transform="translate(301.10,316.30) scale(1.0,1.1)"><text x="0" y="0" font-family='"Liberation Sans", sans-serif' font-size="13.3" font-weight="bold" text-anchor="start" fill="#000">30th</text></g>
<line x1="274.90" y1="330.20" x2="296.80" y2="330.20" stroke="#0000ff" stroke-width="2.8" stroke-linecap="round"/>
<g transform="translate(301.10,333.70) scale(1.0,1.1)"><text x="0" y="0" font-family='"Liberation Sans", sans-serif' font-size="13.3" font-weight="bold" text-anchor="start" fill="#000">1st</text></g>
<g transform="translate(341.00,277.50) scale(1.0,1.0)"><text x="0" y="0" font-family='"Liberation Serif", serif' font-size="34" font-weight="bold" text-anchor="start" fill="#000">e</text></g>
<rect x="388.50" y="285.30" width="280.10" height="208.20" fill="none" stroke="#2a2a2a" stroke-width="1.3"/>
<line x1="393.10" y1="493.50" x2="393.10" y2="497.70" stroke="#2a2a2a" stroke-width="1.3" />
<line x1="460.42" y1="493.50" x2="460.42" y2="497.70" stroke="#2a2a2a" stroke-width="1.3" />
<line x1="527.74" y1="493.50" x2="527.74" y2="497.70" stroke="#2a2a2a" stroke-width="1.3" />
<line x1="595.06" y1="493.50" x2="595.06" y2="497.70" stroke="#2a2a2a" stroke-width="1.3" />
<line x1="662.38" y1="493.50" x2="662.38" y2="497.70" stroke="#2a2a2a" stroke-width="1.3" />
<line x1="426.76" y1="493.50" x2="426.76" y2="496.10" stroke="#2a2a2a" stroke-width="1.3" />
<line x1="494.08" y1="493.50" x2="494.08" y2="496.10" stroke="#2a2a2a" stroke-width="1.3" />
<line x1="561.40" y1="493.50" x2="561.40" y2="496.10" stroke="#2a2a2a" stroke-width="1.3" />
<line x1="628.72" y1="493.50" x2="628.72" y2="496.10" stroke="#2a2a2a" stroke-width="1.3" />
<g transform="translate(393.50,511.00) scale(1.0,1.1)"><text x="0" y="0" font-family='"Liberation Sans", sans-serif' font-size="13.6" font-weight="bold" text-anchor="middle" fill="#000">0</text></g>
<g transform="translate(460.82,511.00) scale(1.0,1.1)"><text x="0" y="0" font-family='"Liberation Sans", sans-serif' font-size="13.6" font-weight="bold" text-anchor="middle" fill="#000">40</text></g>
<g transform="translate(528.14,511.00) scale(1.0,1.1)"><text x="0" y="0" font-family='"Liberation Sans", sans-serif' font-size="13.6" font-weight="bold" text-anchor="middle" fill="#000">80</text></g>
<g transform="translate(595.46,511.00) scale(1.0,1.1)"><text x="0" y="0" font-family='"Liberation Sans", sans-serif' font-size="13.6" font-weight="bold" text-anchor="middle" fill="#000">120</text></g>
<g transform="translate(662.78,511.00) scale(1.0,1.1)"><text x="0" y="0" font-family='"Liberation Sans", sans-serif' font-size="13.6" font-weight="bold" text-anchor="middle" fill="#000">160</text></g>
<line x1="384.30" y1="302.00" x2="388.50" y2="302.00" stroke="#2a2a2a" stroke-width="1.3" />
<line x1="384.30" y1="333.86" x2="388.50" y2="333.86" stroke="#2a2a2a" stroke-width="1.3" />
<line x1="384.30" y1="365.72" x2="388.50" y2="365.72" stroke="#2a2a2a" stroke-width="1.3" />
<line x1="384.30" y1="397.58" x2="388.50" y2="397.58" stroke="#2a2a2a" stroke-width="1.3" />
<line x1="384.30" y1="429.44" x2="388.50" y2="429.44" stroke="#2a2a2a" stroke-width="1.3" />
<line x1="384.30" y1="461.30" x2="388.50" y2="461.30" stroke="#2a2a2a" stroke-width="1.3" />
<line x1="384.30" y1="493.16" x2="388.50" y2="493.16" stroke="#2a2a2a" stroke-width="1.3" />
<line x1="385.90" y1="286.07" x2="388.50" y2="286.07" stroke="#2a2a2a" stroke-width="1.3" />
<line x1="385.90" y1="317.93" x2="388.50" y2="317.93" stroke="#2a2a2a" stroke-width="1.3" />
<line x1="385.90" y1="349.79" x2="388.50" y2="349.79" stroke="#2a2a2a" stroke-width="1.3" />
<line x1="385.90" y1="381.65" x2="388.50" y2="381.65" stroke="#2a2a2a" stroke-width="1.3" />
<line x1="385.90" y1="413.51" x2="388.50" y2="413.51" stroke="#2a2a2a" stroke-width="1.3" />
<line x1="385.90" y1="445.37" x2="388.50" y2="445.37" stroke="#2a2a2a" stroke-width="1.3" />
<line x1="385.90" y1="477.23" x2="388.50" y2="477.23" stroke="#2a2a2a" stroke-width="1.3" />
<g transform="translate(381.50,306.20) scale(1.0,1.1)"><text x="0" y="0" font-family='"Liberation Sans", sans-serif' font-size="13.6" font-weight="bold" text-anchor="end" fill="#000">0.0</text></g>
<g transform="translate(381.50,338.06) scale(1.0,1.1)"><text x="0" y="0" font-family='"Liberation Sans", sans-serif' font-size="13.6" font-weight="bold" text-anchor="end" fill="#000">-0.2</text></g>
<g transform="translate(381.50,369.92) scale(1.0,1.1)"><text x="0" y="0" font-family='"Liberation Sans", sans-serif' font-size="13.6" font-weight="bold" text-anchor="end" fill="#000">-0.4</text></g>
<g transform="translate(381.50,401.78) scale(1.0,1.1)"><text x="0" y="0" font-family='"Liberation Sans", sans-serif' font-size="13.6" font-weight="bold" text-anchor="end" fill="#000">-0.6</text></g>
<g transform="translate(381.50,433.64) scale(1.0,1.1)"><text x="0" y="0" font-family='"Liberation Sans", sans-serif' font-size="13.6" font-weight="bold" text-anchor="end" fill="#000">-0.8</text></g>
<g transform="translate(381.50,465.50) scale(1.0,1.1)"><text x="0" y="0" font-family='"Liberation Sans", sans-serif' font-size="13.6" font-weight="bold" text-anchor="end" fill="#000">-1.0</text></g>
<g transform="translate(381.50,497.36) scale(1.0,1.1)"><text x="0" y="0" font-family='"Liberation Sans", sans-serif' font-size="13.6" font-weight="bold" text-anchor="end" fill="#000">-1.2</text></g>
<g transform="translate(532.00,523.70) scale(1.0,1.1)"><text x="0" y="0" font-family='"Liberation Sans", sans-serif' font-size="14" font-weight="bold" text-anchor="middle" fill="#000">Time (s)</text></g>
<g transform="translate(352.30,382.80) rotate(-90) scale(1.07,1.0)"><text x="0" y="0" font-family='"Liberation Sans", sans-serif' font-size="13.3" font-weight="bold" text-anchor="middle">Potential (V)</text></g>
<g transform="translate(393.80,302.70) scale(1.0,1.07)"><text x="0" y="0" font-family='"Liberation Sans", sans-serif' font-size="13.7" font-weight="bold" text-anchor="start" fill="#000">1 M NaOH</text></g>
<path d="M395.20 477.40 L395.43 472.07 L395.65 466.61 L395.88 461.08 L396.10 455.52 L396.33 450.00 L396.55 444.58 L396.78 439.31 L397.02 434.25 L397.26 429.46 L397.50 425.00 L397.67 422.08 L397.83 419.23 L397.99 416.47 L398.16 413.79 L398.32 411.22 L398.49 408.74 L398.68 406.38 L398.87 404.13 L399.08 402.00 L399.30 400.00 L399.45 398.80 L399.59 397.65 L399.73 396.56 L399.88 395.51 L400.03 394.51 L400.19 393.54 L400.37 392.61 L400.56 391.72 L400.77 390.85 L401.00 390.00 L401.18 389.36 L401.36 388.73 L401.53 388.10 L401.72 387.49 L401.91 386.91 L402.13 386.35 L402.37 385.84 L402.64 385.37 L402.95 384.95 L403.30 384.60 L403.67 384.35 L404.10 384.15 L404.57 384.00 L405.07 383.90 L405.58 383.81 L406.09 383.75 L406.58 383.70 L407.04 383.64 L407.45 383.57 L407.80 383.48 L407.96 383.43 L408.11 383.37 L408.25 383.32 L408.37 383.27 L408.49 383.22 L408.61 383.16 L408.72 383.11 L408.84 383.06 L408.96 383.00 L409.08 382.95 L409.21 382.89 L409.34 382.83 L409.47 382.77 L409.60 382.72 L409.72 382.66 L409.85 382.60 L409.98 382.54 L410.11 382.48 L410.24 382.41 L410.36 382.35 L410.49 382.29 L410.62 382.23 L410.75 382.16 L410.88 382.10 L411.01 382.03 L411.13 381.97 L411.26 381.90 L411.39 381.83 L411.52 381.77 L411.65 381.70 L411.77 381.63 L411.90 381.56 L412.03 381.49 L412.16 381.42 L412.29 381.35 L412.42 381.28 L412.54 381.20 L412.67 381.13 L412.80 381.06 L412.93 380.98 L413.06 380.91 L413.19 380.83 L413.31 380.76 L413.44 380.68 L413.57 380.60 L413.70 380.52 L413.83 380.45 L413.95 380.37 L414.08 380.29 L414.21 380.21 L414.34 380.13 L414.47 380.04 L414.60 379.96 L414.72 379.88 L414.85 379.79 L414.98 379.71 L415.11 379.63 L415.24 379.54 L415.36 379.45 L415.49 379.37 L415.62 379.28 L415.75 379.19 L415.88 379.10 L416.01 379.01 L416.14 378.92 L416.26 378.83 L416.39 378.74 L416.52 378.65 L416.65 378.56 L416.77 378.47 L416.90 378.37 L417.03 378.28 L417.16 378.18 L417.29 378.09 L417.42 377.99 L417.55 377.89 L417.67 377.79 L417.80 377.70 L417.93 377.60 L418.06 377.50 L418.19 377.40 L418.31 377.30 L418.44 377.19 L418.57 377.09 L418.70 376.99 L418.83 376.88 L418.96 376.78 L419.08 376.68 L419.21 376.57 L419.34 376.46 L419.47 376.36 L419.60 376.25 L419.72 376.14 L419.85 376.03 L419.98 375.92 L420.11 375.81 L420.24 375.70 L420.37 375.59 L420.49 375.48 L420.62 375.36 L420.75 375.25 L420.88 375.13 L421.01 375.02 L421.14 374.90 L421.26 374.79 L421.39 374.67 L421.52 374.55 L421.65 374.43 L421.78 374.31 L421.90 374.19 L422.03 374.07 L422.16 373.95 L422.29 373.83 L422.42 373.70 L422.55 373.58 L422.67 373.46 L422.80 373.33 L422.93 373.21 L423.06 373.08 L423.18 372.95 L423.31 372.83 L423.44 372.70 L423.57 372.57 L423.70 372.44 L423.83 372.31 L423.96 372.17 L424.08 372.04 L424.21 371.91 L424.34 371.78 L424.47 371.64 L424.60 371.51 L424.72 371.37 L424.85 371.23 L424.98 371.10 L425.11 370.96 L425.24 370.82 L425.37 370.68 L425.49 370.54 L425.62 370.40 L425.75 370.26 L425.88 370.12 L426.01 369.97 L426.14 369.83 L426.26 369.68 L426.39 369.54 L426.52 369.39 L426.65 369.25 L426.78 369.10 L426.90 368.95 L427.03 368.80 L427.16 368.65 L427.29 368.50 L427.42 368.35 L427.55 368.20 L427.67 368.04 L427.80 367.89 L427.93 367.74 L428.06 367.58 L428.19 367.43 L428.31 367.27 L428.44 367.11 L428.57 366.95 L428.70 366.79 L428.83 366.63 L428.96 366.47 L429.08 366.31 L429.21 366.15 L429.34 365.99 L429.47 365.83 L429.59 365.66 L429.72 365.50 L429.85 365.33 L429.98 365.16 L430.11 364.99 L430.24 364.83 L430.37 364.66 L430.49 364.49 L430.62 364.32 L430.75 364.15 L430.88 363.98 L431.01 363.80 L431.13 363.63 L431.26 363.45 L431.39 363.28 L431.52 363.10 L431.65 362.92 L431.78 362.75 L431.90 362.57 L432.03 362.39 L432.16 362.21 L432.29 362.03 L432.42 361.85 L432.55 361.66 L432.67 361.48 L432.80 361.29 L432.93 361.11 L433.06 360.92 L433.19 360.74 L433.31 360.55 L433.44 360.36 L433.57 360.17 L433.70 359.98 L433.83 359.79 L433.96 359.60 L434.08 359.41 L434.21 359.21 L434.34 359.02 L434.47 358.83 L434.60 358.63 L434.72 358.44 L434.85 358.24 L434.98 358.04 L435.11 357.84 L435.24 357.64 L435.37 357.44 L435.49 357.23 L435.62 357.03 L435.75 356.83 L435.88 356.63 L436.01 356.42 L436.13 356.22 L436.26 356.01 L436.39 355.80 L436.52 355.59 L436.65 355.38 L436.78 355.17 L436.90 354.96 L437.03 354.75 L437.16 354.54 L437.29 354.33 L437.42 354.11 L437.55 353.89 L437.67 353.68 L437.80 353.46 L437.93 353.24 L438.06 353.02 L438.19 352.80 L438.31 352.58 L438.44 352.36 L438.57 352.14 L438.70 351.92 L438.83 351.69 L438.96 351.46 L439.08 351.24 L439.21 351.01 L439.34 350.78 L439.47 350.56 L439.60 350.33 L439.72 350.10 L439.85 349.87 L439.98 349.63 L440.11 349.40 L440.24 349.16 L440.37 348.93 L440.49 348.69 L440.62 348.46 L440.75 348.22 L440.88 347.98 L441.01 347.74 L441.13 347.50 L441.26 347.26 L441.39 347.02 L441.52 346.77 L441.65 346.53 L441.78 346.28 L441.90 346.04 L442.03 345.79 L442.16 345.55 L442.29 345.30 L442.42 345.05 L442.54 344.80 L442.67 344.55 L442.80 344.29 L442.93 344.04 L443.06 343.78 L443.19 343.53 L443.31 343.27 L443.44 343.02 L443.57 342.76 L443.70 342.50 L443.83 342.24 L443.96 341.98 L444.08 341.72 L444.21 341.45 L444.34 341.19 L444.47 340.92 L444.60 340.66 L444.72 340.39 L444.85 340.13 L444.98 339.86 L445.11 339.59 L445.24 339.32 L445.37 339.04 L445.49 338.77 L445.62 338.50 L445.75 338.22 L445.88 337.95 L446.01 337.67 L446.13 337.40 L446.26 337.12 L446.39 336.84 L446.52 336.56 L446.65 336.27 L446.78 335.99 L446.90 335.71 L447.03 335.42 L447.16 335.14 L447.29 334.85 L447.42 334.57 L447.54 334.28 L447.67 333.99 L447.80 333.70 L447.93 333.40 L448.06 333.11 L448.19 332.82 L448.32 332.52 L448.44 332.23 L448.57 331.93 L448.70 331.64 L448.83 331.34 L448.95 331.04 L449.08 330.74 L449.21 330.44 L449.34 330.13 L449.47 329.83 L449.60 329.52 L449.73 329.22 L449.85 328.91 L449.98 328.61 L450.11 328.30 L450.24 327.99 L450.37 327.68 L450.49 327.36 L450.62 327.05 L450.75 326.74 L450.88 326.42 L451.01 326.11 L451.13 325.79 L451.26 325.47 L451.39 325.16 L451.52 324.83 L451.65 324.51 L451.78 324.19 L451.90 323.86 L452.03 323.54 L452.16 323.21 L452.29 322.89 L452.42 322.56 L452.54 322.23 L452.67 321.90 L452.80 321.57 L452.93 321.24 L453.06 320.90 L453.19 320.57 L453.32 320.23 L453.44 319.90 L453.57 319.56 L453.70 319.22 L453.83 318.88 L453.95 318.54 L454.08 318.20 L454.21 317.86 L454.34 317.51 L454.47 317.16 L454.60 316.82 L454.73 316.47 L454.85 316.12 L454.98 315.77 L455.11 315.43 L455.24 315.08 L455.37 314.72 L455.50 314.37 L455.64 314.01 L455.77 313.65 L455.91 313.30 L456.04 312.94 L456.17 312.58 L456.29 312.22 L456.41 311.86 L456.52 311.49 L456.62 311.13 L456.71 310.76 L456.79 310.40 L456.87 310.03 L456.94 309.66 L457.01 309.28 L457.08 308.91 L457.15 308.54 L457.22 308.17 L457.30 307.80 L458.30 307.80 L458.61 314.12 L458.93 320.58 L459.26 327.13 L459.59 333.71 L459.92 340.24 L460.23 346.66 L460.54 352.91 L460.82 358.93 L461.08 364.65 L461.30 370.00 L461.43 373.59 L461.54 377.08 L461.64 380.47 L461.72 383.75 L461.80 386.93 L461.88 389.99 L461.96 392.93 L462.05 395.75 L462.17 398.44 L462.30 401.00 L462.39 402.65 L462.45 404.26 L462.51 405.82 L462.56 407.32 L462.63 408.77 L462.72 410.15 L462.84 411.47 L463.00 412.72 L463.22 413.90 L463.50 415.00 L463.71 415.70 L463.93 416.38 L464.15 417.03 L464.39 417.65 L464.65 418.24 L464.94 418.79 L465.26 419.30 L465.62 419.78 L466.04 420.21 L466.50 420.60 L467.10 420.98 L467.77 421.28 L468.49 421.51 L469.27 421.69 L470.10 421.83 L470.96 421.93 L471.86 422.01 L472.79 422.07 L473.74 422.13 L474.70 422.20 L476.11 422.27 L477.60 422.27 L479.16 422.22 L480.79 422.13 L482.47 422.01 L484.19 421.89 L485.93 421.78 L487.69 421.68 L489.45 421.61 L491.20 421.60 L493.23 421.60 L495.37 421.59 L497.60 421.58 L499.86 421.59 L502.12 421.62 L504.33 421.70 L506.45 421.83 L508.45 422.03 L510.28 422.31 L511.90 422.70 L512.82 422.98 L513.68 423.26 L514.49 423.55 L515.25 423.87 L515.97 424.22 L516.65 424.62 L517.30 425.06 L517.92 425.57 L518.52 426.14 L519.10 426.80 L519.86 427.86 L520.55 429.07 L521.16 430.41 L521.71 431.88 L522.21 433.44 L522.68 435.10 L523.10 436.83 L523.51 438.61 L523.91 440.44 L524.30 442.30 L524.81 445.08 L525.24 448.08 L525.60 451.26 L525.90 454.58 L526.17 458.00 L526.40 461.48 L526.63 465.00 L526.86 468.49 L527.11 471.94 L527.40 475.30" fill="none" stroke="#000000" stroke-width="2.5" stroke-linejoin="round" stroke-linecap="butt"/>
<path d="M394.80 474.30 L395.05 469.30 L395.30 464.17 L395.54 458.99 L395.79 453.78 L396.04 448.61 L396.29 443.52 L396.54 438.57 L396.79 433.80 L397.04 429.26 L397.30 425.00 L397.49 422.11 L397.68 419.27 L397.87 416.51 L398.07 413.83 L398.27 411.25 L398.46 408.76 L398.65 406.38 L398.84 404.12 L399.02 401.99 L399.20 400.00 L399.29 398.83 L399.36 397.71 L399.42 396.63 L399.47 395.60 L399.53 394.61 L399.60 393.67 L399.70 392.77 L399.82 391.91 L399.99 391.09 L400.20 390.30 L400.38 389.75 L400.58 389.20 L400.79 388.68 L401.01 388.17 L401.25 387.69 L401.50 387.24 L401.77 386.82 L402.06 386.43 L402.37 386.09 L402.70 385.80 L402.99 385.60 L403.31 385.44 L403.65 385.31 L404.00 385.21 L404.36 385.13 L404.73 385.07 L405.09 385.01 L405.44 384.95 L405.78 384.89 L406.10 384.82 L406.35 384.75 L406.59 384.69 L406.83 384.63 L407.06 384.57 L407.29 384.52 L407.51 384.47 L407.74 384.41 L407.96 384.36 L408.19 384.30 L408.42 384.25 L408.65 384.19 L408.88 384.13 L409.11 384.07 L409.35 384.01 L409.58 383.95 L409.81 383.89 L410.04 383.83 L410.27 383.76 L410.50 383.70 L410.74 383.64 L410.97 383.58 L411.20 383.51 L411.43 383.45 L411.66 383.39 L411.90 383.32 L412.13 383.26 L412.36 383.19 L412.59 383.13 L412.82 383.06 L413.05 383.00 L413.29 382.93 L413.52 382.86 L413.75 382.79 L413.98 382.73 L414.21 382.66 L414.45 382.59 L414.68 382.52 L414.91 382.45 L415.14 382.38 L415.37 382.31 L415.60 382.24 L415.84 382.17 L416.07 382.10 L416.30 382.03 L416.53 381.95 L416.76 381.88 L417.00 381.81 L417.23 381.73 L417.46 381.66 L417.69 381.58 L417.92 381.51 L418.15 381.43 L418.39 381.36 L418.62 381.28 L418.85 381.20 L419.08 381.13 L419.31 381.05 L419.54 380.97 L419.78 380.89 L420.01 380.81 L420.24 380.73 L420.47 380.65 L420.70 380.57 L420.94 380.49 L421.17 380.41 L421.40 380.33 L421.63 380.24 L421.86 380.16 L422.09 380.08 L422.33 379.99 L422.56 379.91 L422.79 379.82 L423.02 379.74 L423.25 379.65 L423.49 379.56 L423.72 379.48 L423.95 379.39 L424.18 379.30 L424.41 379.21 L424.64 379.12 L424.88 379.03 L425.11 378.94 L425.34 378.85 L425.57 378.76 L425.80 378.67 L426.04 378.58 L426.27 378.48 L426.50 378.39 L426.73 378.30 L426.96 378.20 L427.19 378.11 L427.43 378.01 L427.66 377.91 L427.89 377.82 L428.12 377.72 L428.35 377.62 L428.59 377.52 L428.82 377.42 L429.05 377.33 L429.28 377.23 L429.51 377.12 L429.74 377.02 L429.98 376.92 L430.21 376.82 L430.44 376.71 L430.67 376.61 L430.90 376.51 L431.13 376.40 L431.37 376.30 L431.60 376.19 L431.83 376.08 L432.06 375.98 L432.29 375.87 L432.53 375.76 L432.76 375.65 L432.99 375.54 L433.22 375.43 L433.45 375.32 L433.68 375.21 L433.92 375.10 L434.15 374.98 L434.38 374.87 L434.61 374.75 L434.84 374.64 L435.08 374.52 L435.31 374.41 L435.54 374.29 L435.77 374.17 L436.00 374.05 L436.23 373.94 L436.47 373.82 L436.70 373.70 L436.93 373.57 L437.16 373.45 L437.39 373.33 L437.63 373.21 L437.86 373.08 L438.09 372.96 L438.32 372.83 L438.55 372.71 L438.78 372.58 L439.02 372.45 L439.25 372.33 L439.48 372.20 L439.71 372.07 L439.94 371.94 L440.18 371.81 L440.41 371.68 L440.64 371.54 L440.87 371.41 L441.10 371.28 L441.33 371.14 L441.57 371.01 L441.80 370.87 L442.03 370.73 L442.26 370.60 L442.49 370.46 L442.72 370.32 L442.96 370.18 L443.19 370.04 L443.42 369.90 L443.65 369.75 L443.88 369.61 L444.12 369.47 L444.35 369.32 L444.58 369.18 L444.81 369.03 L445.04 368.88 L445.27 368.73 L445.51 368.59 L445.74 368.44 L445.97 368.29 L446.20 368.13 L446.43 367.98 L446.67 367.83 L446.90 367.67 L447.13 367.52 L447.36 367.36 L447.59 367.21 L447.82 367.05 L448.06 366.89 L448.29 366.73 L448.52 366.57 L448.75 366.41 L448.98 366.25 L449.22 366.09 L449.45 365.92 L449.68 365.76 L449.91 365.60 L450.14 365.43 L450.37 365.26 L450.61 365.09 L450.84 364.92 L451.07 364.75 L451.30 364.58 L451.53 364.41 L451.77 364.24 L452.00 364.07 L452.23 363.89 L452.46 363.72 L452.69 363.54 L452.92 363.36 L453.16 363.18 L453.39 363.00 L453.62 362.82 L453.85 362.64 L454.08 362.46 L454.32 362.28 L454.55 362.09 L454.78 361.91 L455.01 361.72 L455.24 361.53 L455.47 361.34 L455.71 361.15 L455.94 360.96 L456.17 360.77 L456.40 360.58 L456.63 360.38 L456.86 360.19 L457.09 360.00 L457.33 359.80 L457.56 359.60 L457.79 359.40 L458.03 359.20 L458.26 359.00 L458.49 358.79 L458.72 358.59 L458.95 358.39 L459.18 358.18 L459.41 357.98 L459.65 357.77 L459.88 357.56 L460.11 357.35 L460.34 357.13 L460.58 356.92 L460.81 356.71 L461.04 356.49 L461.27 356.28 L461.50 356.06 L461.73 355.85 L461.96 355.62 L462.20 355.40 L462.43 355.18 L462.66 354.96 L462.89 354.73 L463.13 354.51 L463.36 354.28 L463.59 354.05 L463.82 353.82 L464.05 353.60 L464.28 353.36 L464.51 353.13 L464.75 352.89 L464.98 352.66 L465.21 352.42 L465.44 352.18 L465.67 351.94 L465.91 351.70 L466.14 351.46 L466.37 351.22 L466.60 350.97 L466.83 350.73 L467.07 350.48 L467.30 350.23 L467.53 349.98 L467.76 349.73 L467.99 349.48 L468.22 349.22 L468.45 348.97 L468.68 348.72 L468.92 348.46 L469.15 348.19 L469.38 347.93 L469.62 347.67 L469.85 347.41 L470.08 347.14 L470.31 346.88 L470.54 346.61 L470.77 346.34 L471.00 346.07 L471.24 345.80 L471.47 345.52 L471.70 345.25 L471.93 344.97 L472.17 344.69 L472.40 344.41 L472.63 344.13 L472.86 343.85 L473.09 343.57 L473.32 343.28 L473.55 342.99 L473.79 342.70 L474.02 342.41 L474.25 342.12 L474.48 341.82 L474.72 341.53 L474.95 341.23 L475.18 340.94 L475.41 340.64 L475.64 340.34 L475.87 340.03 L476.11 339.73 L476.34 339.42 L476.57 339.11 L476.80 338.80 L477.03 338.49 L477.27 338.18 L477.50 337.87 L477.73 337.55 L477.96 337.24 L478.19 336.91 L478.42 336.59 L478.66 336.27 L478.89 335.94 L479.12 335.61 L479.35 335.29 L479.58 334.96 L479.81 334.63 L480.04 334.30 L480.27 333.96 L480.51 333.62 L480.74 333.28 L480.97 332.94 L481.21 332.60 L481.44 332.25 L481.67 331.91 L481.90 331.56 L482.13 331.21 L482.36 330.86 L482.59 330.51 L482.83 330.15 L483.06 329.79 L483.29 329.43 L483.52 329.07 L483.76 328.71 L483.99 328.34 L484.22 327.98 L484.45 327.61 L484.68 327.24 L484.91 326.87 L485.14 326.50 L485.38 326.12 L485.61 325.74 L485.84 325.35 L486.07 324.97 L486.31 324.59 L486.54 324.20 L486.77 323.81 L487.00 323.43 L487.23 323.04 L487.46 322.64 L487.70 322.24 L487.93 321.84 L488.16 321.44 L488.39 321.03 L488.62 320.63 L488.86 320.22 L489.09 319.81 L489.32 319.40 L489.55 318.99 L489.78 318.57 L490.01 318.15 L490.25 317.73 L490.48 317.30 L490.71 316.88 L490.94 316.45 L491.17 316.02 L491.40 315.59 L491.63 315.16 L491.86 314.73 L492.10 314.29 L492.34 313.84 L492.58 313.40 L492.82 312.95 L493.06 312.51 L493.29 312.06 L493.53 311.61 L493.75 311.15 L493.97 310.70 L494.18 310.24 L494.38 309.77 L494.58 309.30 L494.76 308.83 L494.95 308.36 L495.12 307.88 L495.30 307.41 L495.47 306.93 L495.64 306.45 L495.82 305.97 L496.00 305.50 L497.00 305.50 L497.36 312.06 L497.74 318.77 L498.12 325.59 L498.51 332.42 L498.89 339.21 L499.26 345.88 L499.62 352.37 L499.94 358.59 L500.24 364.50 L500.50 370.00 L500.65 373.61 L500.77 377.13 L500.88 380.54 L500.97 383.85 L501.06 387.03 L501.15 390.10 L501.24 393.03 L501.34 395.83 L501.46 398.49 L501.60 401.00 L501.70 402.55 L501.78 404.05 L501.87 405.49 L501.96 406.87 L502.05 408.20 L502.16 409.47 L502.29 410.69 L502.43 411.85 L502.60 412.95 L502.80 414.00 L502.94 414.69 L503.08 415.36 L503.22 416.02 L503.36 416.66 L503.52 417.27 L503.70 417.84 L503.90 418.37 L504.13 418.84 L504.39 419.25 L504.70 419.60 L504.96 419.81 L505.23 419.98 L505.52 420.12 L505.83 420.23 L506.16 420.30 L506.49 420.36 L506.85 420.41 L507.22 420.44 L507.60 420.47 L508.00 420.50 L508.64 420.52 L509.31 420.51 L510.02 420.45 L510.76 420.36 L511.54 420.26 L512.36 420.13 L513.21 420.00 L514.10 419.86 L515.03 419.72 L516.00 419.60 L517.70 419.38 L519.58 419.13 L521.61 418.84 L523.75 418.53 L525.97 418.22 L528.22 417.91 L530.48 417.62 L532.70 417.37 L534.85 417.16 L536.90 417.00 L538.66 416.90 L540.39 416.81 L542.10 416.73 L543.79 416.68 L545.47 416.65 L547.13 416.65 L548.80 416.68 L550.46 416.75 L552.12 416.85 L553.80 417.00 L555.50 417.20 L557.19 417.45 L558.89 417.74 L560.58 418.08 L562.27 418.44 L563.95 418.82 L565.64 419.22 L567.33 419.62 L569.01 420.01 L570.70 420.40 L572.42 420.77 L574.19 421.13 L575.99 421.48 L577.79 421.83 L579.58 422.20 L581.33 422.60 L583.03 423.03 L584.65 423.50 L586.18 424.02 L587.60 424.60 L588.62 425.08 L589.59 425.57 L590.52 426.08 L591.41 426.62 L592.27 427.17 L593.08 427.76 L593.86 428.39 L594.61 429.05 L595.32 429.75 L596.00 430.50 L596.67 431.33 L597.30 432.19 L597.87 433.09 L598.41 434.03 L598.91 435.01 L599.38 436.04 L599.83 437.12 L600.26 438.25 L600.68 439.45 L601.10 440.70 L601.69 442.74 L602.20 444.99 L602.66 447.41 L603.08 449.96 L603.46 452.60 L603.82 455.30 L604.17 458.03 L604.53 460.75 L604.90 463.42 L605.30 466.00" fill="none" stroke="#ff0000" stroke-width="2.5" stroke-linejoin="round" stroke-linecap="butt"/>
<path d="M395.20 461.90 L395.41 457.64 L395.61 453.27 L395.80 448.85 L396.00 444.40 L396.19 439.99 L396.39 435.65 L396.60 431.44 L396.82 427.40 L397.05 423.57 L397.30 420.00 L397.48 417.65 L397.67 415.35 L397.87 413.11 L398.07 410.93 L398.28 408.84 L398.48 406.84 L398.69 404.95 L398.90 403.17 L399.10 401.52 L399.30 400.00 L399.41 399.21 L399.51 398.47 L399.60 397.78 L399.70 397.12 L399.79 396.50 L399.89 395.90 L400.00 395.31 L400.12 394.74 L400.25 394.17 L400.40 393.60 L400.53 393.10 L400.67 392.61 L400.81 392.12 L400.95 391.63 L401.10 391.16 L401.27 390.70 L401.45 390.27 L401.64 389.85 L401.86 389.46 L402.10 389.10 L402.32 388.81 L402.56 388.54 L402.80 388.29 L403.06 388.05 L403.33 387.83 L403.62 387.62 L403.91 387.42 L404.23 387.24 L404.56 387.06 L404.90 386.90 L405.38 386.71 L405.92 386.56 L406.50 386.42 L407.10 386.31 L407.72 386.22 L408.35 386.14 L408.96 386.06 L409.55 385.99 L410.10 385.91 L410.60 385.83 L410.93 385.77 L411.23 385.72 L411.53 385.66 L411.81 385.61 L412.09 385.56 L412.36 385.51 L412.63 385.46 L412.90 385.41 L413.18 385.36 L413.46 385.31 L413.75 385.26 L414.03 385.21 L414.32 385.15 L414.61 385.10 L414.89 385.05 L415.18 384.99 L415.46 384.94 L415.75 384.89 L416.04 384.83 L416.32 384.78 L416.61 384.72 L416.90 384.67 L417.18 384.62 L417.47 384.56 L417.75 384.51 L418.04 384.45 L418.33 384.40 L418.61 384.34 L418.90 384.29 L419.18 384.23 L419.47 384.18 L419.76 384.12 L420.04 384.07 L420.33 384.01 L420.62 383.95 L420.90 383.90 L421.19 383.84 L421.47 383.78 L421.76 383.73 L422.05 383.67 L422.33 383.61 L422.62 383.56 L422.90 383.50 L423.19 383.44 L423.48 383.38 L423.76 383.33 L424.05 383.27 L424.34 383.21 L424.62 383.15 L424.91 383.09 L425.19 383.04 L425.48 382.98 L425.77 382.92 L426.05 382.86 L426.34 382.80 L426.62 382.74 L426.91 382.68 L427.20 382.62 L427.48 382.56 L427.77 382.50 L428.06 382.44 L428.34 382.38 L428.63 382.31 L428.91 382.25 L429.20 382.19 L429.49 382.13 L429.77 382.07 L430.06 382.01 L430.34 381.94 L430.63 381.88 L430.92 381.82 L431.20 381.75 L431.49 381.69 L431.78 381.63 L432.06 381.56 L432.35 381.50 L432.63 381.44 L432.92 381.37 L433.21 381.31 L433.49 381.24 L433.78 381.18 L434.06 381.11 L434.35 381.04 L434.64 380.98 L434.92 380.91 L435.21 380.84 L435.50 380.78 L435.78 380.71 L436.07 380.64 L436.35 380.58 L436.64 380.51 L436.93 380.44 L437.21 380.37 L437.50 380.30 L437.79 380.23 L438.07 380.16 L438.36 380.09 L438.64 380.02 L438.93 379.95 L439.22 379.88 L439.50 379.81 L439.79 379.74 L440.07 379.67 L440.36 379.59 L440.65 379.52 L440.93 379.45 L441.22 379.38 L441.50 379.30 L441.79 379.23 L442.08 379.15 L442.36 379.08 L442.65 379.00 L442.94 378.93 L443.22 378.85 L443.51 378.78 L443.79 378.70 L444.08 378.62 L444.37 378.55 L444.65 378.47 L444.94 378.39 L445.22 378.31 L445.51 378.23 L445.80 378.15 L446.08 378.08 L446.37 377.99 L446.66 377.91 L446.94 377.83 L447.23 377.75 L447.51 377.67 L447.80 377.59 L448.09 377.51 L448.37 377.42 L448.66 377.34 L448.95 377.25 L449.23 377.17 L449.52 377.09 L449.80 377.00 L450.09 376.91 L450.38 376.83 L450.66 376.74 L450.95 376.65 L451.23 376.57 L451.52 376.48 L451.81 376.39 L452.09 376.30 L452.38 376.21 L452.67 376.12 L452.95 376.03 L453.24 375.94 L453.52 375.84 L453.81 375.75 L454.10 375.66 L454.38 375.56 L454.67 375.47 L454.95 375.37 L455.24 375.28 L455.53 375.18 L455.81 375.08 L456.10 374.99 L456.38 374.89 L456.67 374.79 L456.96 374.69 L457.24 374.59 L457.53 374.49 L457.82 374.39 L458.10 374.29 L458.39 374.18 L458.67 374.08 L458.96 373.98 L459.25 373.87 L459.53 373.77 L459.82 373.66 L460.11 373.55 L460.39 373.45 L460.68 373.34 L460.96 373.23 L461.25 373.12 L461.54 373.01 L461.82 372.90 L462.11 372.79 L462.39 372.67 L462.68 372.56 L462.97 372.45 L463.25 372.33 L463.54 372.21 L463.83 372.10 L464.11 371.98 L464.40 371.86 L464.68 371.74 L464.97 371.62 L465.26 371.50 L465.54 371.38 L465.83 371.26 L466.12 371.13 L466.40 371.01 L466.69 370.88 L466.97 370.76 L467.26 370.63 L467.55 370.50 L467.83 370.37 L468.12 370.24 L468.40 370.11 L468.69 369.98 L468.98 369.84 L469.26 369.71 L469.55 369.58 L469.84 369.44 L470.12 369.30 L470.41 369.16 L470.69 369.02 L470.98 368.88 L471.27 368.74 L471.55 368.60 L471.84 368.45 L472.13 368.31 L472.41 368.16 L472.70 368.02 L472.98 367.87 L473.27 367.72 L473.55 367.57 L473.84 367.42 L474.13 367.26 L474.42 367.11 L474.70 366.95 L474.99 366.79 L475.27 366.64 L475.56 366.48 L475.85 366.32 L476.13 366.15 L476.42 365.99 L476.70 365.82 L476.99 365.66 L477.28 365.49 L477.56 365.32 L477.85 365.15 L478.14 364.98 L478.42 364.80 L478.71 364.63 L478.99 364.45 L479.28 364.28 L479.56 364.10 L479.85 363.92 L480.14 363.73 L480.43 363.55 L480.71 363.36 L481.00 363.18 L481.28 362.99 L481.57 362.80 L481.85 362.61 L482.14 362.41 L482.43 362.22 L482.71 362.02 L483.00 361.82 L483.29 361.62 L483.57 361.42 L483.86 361.21 L484.15 361.01 L484.43 360.80 L484.72 360.59 L485.00 360.38 L485.29 360.17 L485.58 359.95 L485.86 359.73 L486.15 359.51 L486.44 359.29 L486.72 359.07 L487.01 358.84 L487.29 358.62 L487.58 358.39 L487.86 358.16 L488.15 357.92 L488.44 357.69 L488.73 357.45 L489.01 357.21 L489.30 356.97 L489.59 356.72 L489.87 356.48 L490.16 356.23 L490.44 355.98 L490.72 355.73 L491.01 355.47 L491.30 355.21 L491.59 354.95 L491.88 354.68 L492.16 354.42 L492.45 354.15 L492.73 353.88 L493.02 353.61 L493.30 353.34 L493.58 353.06 L493.87 352.78 L494.16 352.49 L494.45 352.20 L494.74 351.91 L495.02 351.62 L495.31 351.33 L495.60 351.03 L495.88 350.73 L496.16 350.43 L496.45 350.13 L496.74 349.82 L497.02 349.50 L497.31 349.19 L497.60 348.87 L497.89 348.55 L498.17 348.23 L498.46 347.90 L498.74 347.57 L499.03 347.24 L499.31 346.91 L499.60 346.57 L499.89 346.22 L500.17 345.87 L500.46 345.52 L500.75 345.16 L501.03 344.81 L501.32 344.45 L501.60 344.09 L501.89 343.73 L502.17 343.36 L502.46 342.98 L502.75 342.60 L503.04 342.21 L503.32 341.82 L503.61 341.43 L503.90 341.04 L504.18 340.65 L504.47 340.25 L504.75 339.85 L505.03 339.44 L505.32 339.02 L505.61 338.60 L505.90 338.18 L506.19 337.75 L506.47 337.32 L506.76 336.88 L507.04 336.45 L507.33 336.01 L507.61 335.57 L507.89 335.12 L508.18 334.66 L508.47 334.19 L508.76 333.72 L509.05 333.25 L509.34 332.77 L509.62 332.29 L509.91 331.81 L510.19 331.32 L510.47 330.83 L510.75 330.34 L511.05 329.83 L511.34 329.31 L511.62 328.79 L511.91 328.26 L512.20 327.74 L512.48 327.21 L512.77 326.67 L513.05 326.14 L513.33 325.60 L513.62 325.05 L513.91 324.48 L514.20 323.91 L514.49 323.33 L514.77 322.75 L515.06 322.17 L515.35 321.58 L515.63 320.99 L515.91 320.39 L516.20 319.80 L516.48 319.19 L516.77 318.56 L517.07 317.93 L517.36 317.29 L517.66 316.65 L517.95 316.00 L518.24 315.35 L518.53 314.70 L518.80 314.04 L519.08 313.37 L519.34 312.70 L519.60 312.00 L519.85 311.29 L520.09 310.58 L520.33 309.86 L520.56 309.13 L520.78 308.40 L521.01 307.68 L521.24 306.95 L521.47 306.22 L521.70 305.50 L522.70 305.50 L522.97 312.06 L523.24 318.77 L523.52 325.59 L523.81 332.42 L524.09 339.21 L524.36 345.88 L524.62 352.37 L524.87 358.60 L525.10 364.50 L525.30 370.00 L525.42 373.63 L525.52 377.17 L525.60 380.62 L525.68 383.96 L525.75 387.19 L525.83 390.27 L525.91 393.21 L526.02 395.99 L526.14 398.59 L526.30 401.00 L526.41 402.34 L526.52 403.60 L526.64 404.79 L526.76 405.93 L526.89 407.01 L527.02 408.05 L527.16 409.06 L527.30 410.05 L527.45 411.03 L527.60 412.00 L527.72 412.79 L527.82 413.57 L527.91 414.36 L528.01 415.13 L528.12 415.87 L528.24 416.59 L528.38 417.27 L528.55 417.90 L528.75 418.48 L529.00 419.00 L529.19 419.32 L529.37 419.63 L529.57 419.91 L529.77 420.17 L529.99 420.41 L530.23 420.63 L530.50 420.83 L530.80 421.01 L531.13 421.16 L531.50 421.30 L532.39 421.47 L533.44 421.49 L534.65 421.38 L535.97 421.18 L537.40 420.91 L538.91 420.61 L540.48 420.29 L542.08 420.00 L543.70 419.76 L545.30 419.60 L547.51 419.46 L549.83 419.34 L552.24 419.25 L554.73 419.18 L557.29 419.13 L559.91 419.09 L562.57 419.07 L565.26 419.07 L567.98 419.08 L570.70 419.10 L573.94 419.14 L577.34 419.21 L580.85 419.30 L584.43 419.41 L588.03 419.54 L591.59 419.69 L595.06 419.85 L598.41 420.03 L601.57 420.21 L604.50 420.40 L606.43 420.52 L608.26 420.62 L610.02 420.71 L611.71 420.80 L613.35 420.91 L614.97 421.04 L616.56 421.22 L618.15 421.44 L619.76 421.73 L621.40 422.10 L623.13 422.56 L624.89 423.08 L626.65 423.66 L628.42 424.29 L630.17 424.97 L631.89 425.70 L633.57 426.46 L635.19 427.25 L636.74 428.06 L638.20 428.90 L639.39 429.63 L640.54 430.39 L641.64 431.18 L642.71 431.98 L643.74 432.81 L644.74 433.67 L645.70 434.54 L646.63 435.44 L647.53 436.36 L648.40 437.30 L649.19 438.22 L649.94 439.15 L650.65 440.11 L651.33 441.09 L651.98 442.08 L652.62 443.10 L653.24 444.14 L653.85 445.20 L654.47 446.29 L655.10 447.40 L655.82 448.72 L656.52 450.09 L657.21 451.50 L657.89 452.94 L658.56 454.41 L659.23 455.90 L659.89 457.39 L660.56 458.87 L661.22 460.35 L661.90 461.80" fill="none" stroke="#0000ff" stroke-width="2.5" stroke-linejoin="round" stroke-linecap="butt"/>
<line x1="612.40" y1="295.90" x2="634.20" y2="295.90" stroke="#000000" stroke-width="2.8" stroke-linecap="round"/>
<g transform="translate(638.50,299.40) scale(1.0,1.1)"><text x="0" y="0" font-family='"Liberation Sans", sans-serif' font-size="13.3" font-weight="bold" text-anchor="start" fill="#000">90th</text></g>
<line x1="612.40" y1="313.60" x2="634.20" y2="313.60" stroke="#ff0000" stroke-width="2.8" stroke-linecap="round"/>
<g transform="translate(638.50,317.10) scale(1.0,1.1)"><text x="0" y="0" font-family='"Liberation Sans", sans-serif' font-size="13.3" font-weight="bold" text-anchor="start" fill="#000">30th</text></g>
<line x1="612.40" y1="331.20" x2="634.20" y2="331.20" stroke="#0000ff" stroke-width="2.8" stroke-linecap="round"/>
<g transform="translate(638.50,334.70) scale(1.0,1.1)"><text x="0" y="0" font-family='"Liberation Sans", sans-serif' font-size="13.3" font-weight="bold" text-anchor="start" fill="#000">1st</text></g>
<g transform="translate(677.80,276.60) scale(1.08,1.0)"><text x="0" y="0" font-family='"Liberation Serif", serif' font-size="34" font-weight="bold" text-anchor="start" fill="#000">f</text></g>
<rect x="729.60" y="284.60" width="280.40" height="207.70" fill="none" stroke="#2a2a2a" stroke-width="1.3"/>
<line x1="735.30" y1="492.30" x2="735.30" y2="496.50" stroke="#2a2a2a" stroke-width="1.3" />
<line x1="781.14" y1="492.30" x2="781.14" y2="496.50" stroke="#2a2a2a" stroke-width="1.3" />
<line x1="826.98" y1="492.30" x2="826.98" y2="496.50" stroke="#2a2a2a" stroke-width="1.3" />
<line x1="872.82" y1="492.30" x2="872.82" y2="496.50" stroke="#2a2a2a" stroke-width="1.3" />
<line x1="918.66" y1="492.30" x2="918.66" y2="496.50" stroke="#2a2a2a" stroke-width="1.3" />
<line x1="964.50" y1="492.30" x2="964.50" y2="496.50" stroke="#2a2a2a" stroke-width="1.3" />
<line x1="1010.34" y1="492.30" x2="1010.34" y2="496.50" stroke="#2a2a2a" stroke-width="1.3" />
<line x1="758.22" y1="492.30" x2="758.22" y2="494.90" stroke="#2a2a2a" stroke-width="1.3" />
<line x1="804.06" y1="492.30" x2="804.06" y2="494.90" stroke="#2a2a2a" stroke-width="1.3" />
<line x1="849.90" y1="492.30" x2="849.90" y2="494.90" stroke="#2a2a2a" stroke-width="1.3" />
<line x1="895.74" y1="492.30" x2="895.74" y2="494.90" stroke="#2a2a2a" stroke-width="1.3" />
<line x1="941.58" y1="492.30" x2="941.58" y2="494.90" stroke="#2a2a2a" stroke-width="1.3" />
<line x1="987.42" y1="492.30" x2="987.42" y2="494.90" stroke="#2a2a2a" stroke-width="1.3" />
<g transform="translate(735.70,509.30) scale(1.0,1.1)"><text x="0" y="0" font-family='"Liberation Sans", sans-serif' font-size="13.6" font-weight="bold" text-anchor="middle" fill="#000">0</text></g>
<g transform="translate(781.54,509.30) scale(1.0,1.1)"><text x="0" y="0" font-family='"Liberation Sans", sans-serif' font-size="13.6" font-weight="bold" text-anchor="middle" fill="#000">40</text></g>
<g transform="translate(827.38,509.30) scale(1.0,1.1)"><text x="0" y="0" font-family='"Liberation Sans", sans-serif' font-size="13.6" font-weight="bold" text-anchor="middle" fill="#000">80</text></g>
<g transform="translate(873.22,509.30) scale(1.0,1.1)"><text x="0" y="0" font-family='"Liberation Sans", sans-serif' font-size="13.6" font-weight="bold" text-anchor="middle" fill="#000">120</text></g>
<g transform="translate(919.06,509.30) scale(1.0,1.1)"><text x="0" y="0" font-family='"Liberation Sans", sans-serif' font-size="13.6" font-weight="bold" text-anchor="middle" fill="#000">160</text></g>
<g transform="translate(964.90,509.30) scale(1.0,1.1)"><text x="0" y="0" font-family='"Liberation Sans", sans-serif' font-size="13.6" font-weight="bold" text-anchor="middle" fill="#000">200</text></g>
<g transform="translate(1010.74,509.30) scale(1.0,1.1)"><text x="0" y="0" font-family='"Liberation Sans", sans-serif' font-size="13.6" font-weight="bold" text-anchor="middle" fill="#000">240</text></g>
<line x1="725.40" y1="301.50" x2="729.60" y2="301.50" stroke="#2a2a2a" stroke-width="1.3" />
<line x1="725.40" y1="333.25" x2="729.60" y2="333.25" stroke="#2a2a2a" stroke-width="1.3" />
<line x1="725.40" y1="365.00" x2="729.60" y2="365.00" stroke="#2a2a2a" stroke-width="1.3" />
<line x1="725.40" y1="396.75" x2="729.60" y2="396.75" stroke="#2a2a2a" stroke-width="1.3" />
<line x1="725.40" y1="428.50" x2="729.60" y2="428.50" stroke="#2a2a2a" stroke-width="1.3" />
<line x1="725.40" y1="460.25" x2="729.60" y2="460.25" stroke="#2a2a2a" stroke-width="1.3" />
<line x1="725.40" y1="492.00" x2="729.60" y2="492.00" stroke="#2a2a2a" stroke-width="1.3" />
<line x1="727.00" y1="285.62" x2="729.60" y2="285.62" stroke="#2a2a2a" stroke-width="1.3" />
<line x1="727.00" y1="317.38" x2="729.60" y2="317.38" stroke="#2a2a2a" stroke-width="1.3" />
<line x1="727.00" y1="349.12" x2="729.60" y2="349.12" stroke="#2a2a2a" stroke-width="1.3" />
<line x1="727.00" y1="380.88" x2="729.60" y2="380.88" stroke="#2a2a2a" stroke-width="1.3" />
<line x1="727.00" y1="412.62" x2="729.60" y2="412.62" stroke="#2a2a2a" stroke-width="1.3" />
<line x1="727.00" y1="444.38" x2="729.60" y2="444.38" stroke="#2a2a2a" stroke-width="1.3" />
<line x1="727.00" y1="476.12" x2="729.60" y2="476.12" stroke="#2a2a2a" stroke-width="1.3" />
<g transform="translate(722.60,305.70) scale(1.0,1.1)"><text x="0" y="0" font-family='"Liberation Sans", sans-serif' font-size="13.6" font-weight="bold" text-anchor="end" fill="#000">0.0</text></g>
<g transform="translate(722.60,337.45) scale(1.0,1.1)"><text x="0" y="0" font-family='"Liberation Sans", sans-serif' font-size="13.6" font-weight="bold" text-anchor="end" fill="#000">-0.2</text></g>
<g transform="translate(722.60,369.20) scale(1.0,1.1)"><text x="0" y="0" font-family='"Liberation Sans", sans-serif' font-size="13.6" font-weight="bold" text-anchor="end" fill="#000">-0.4</text></g>
<g transform="translate(722.60,400.95) scale(1.0,1.1)"><text x="0" y="0" font-family='"Liberation Sans", sans-serif' font-size="13.6" font-weight="bold" text-anchor="end" fill="#000">-0.6</text></g>
<g transform="translate(722.60,432.70) scale(1.0,1.1)"><text x="0" y="0" font-family='"Liberation Sans", sans-serif' font-size="13.6" font-weight="bold" text-anchor="end" fill="#000">-0.8</text></g>
<g transform="translate(722.60,464.45) scale(1.0,1.1)"><text x="0" y="0" font-family='"Liberation Sans", sans-serif' font-size="13.6" font-weight="bold" text-anchor="end" fill="#000">-1.0</text></g>
<g transform="translate(722.60,496.20) scale(1.0,1.1)"><text x="0" y="0" font-family='"Liberation Sans", sans-serif' font-size="13.6" font-weight="bold" text-anchor="end" fill="#000">-1.2</text></g>
<g transform="translate(856.90,525.60) scale(1.0,1.1)"><text x="0" y="0" font-family='"Liberation Sans", sans-serif' font-size="14" font-weight="bold" text-anchor="middle" fill="#000">Time (s)</text></g>
<g transform="translate(691.20,380.70) rotate(-90) scale(1.07,1.0)"><text x="0" y="0" font-family='"Liberation Sans", sans-serif' font-size="13.3" font-weight="bold" text-anchor="middle">Potential (V)</text></g>
<g transform="translate(735.50,299.60) scale(1.0,1.07)"><text x="0" y="0" font-family='"Liberation Sans", sans-serif' font-size="13.7" font-weight="bold" text-anchor="start" fill="#000">1 M KOH</text></g>
<path d="M737.40 470.50 L737.52 469.41 L737.64 468.38 L737.77 467.37 L737.89 466.38 L738.01 465.37 L738.14 464.32 L738.26 463.21 L738.37 462.02 L738.49 460.72 L738.60 459.30 L738.80 455.97 L738.98 451.99 L739.15 447.51 L739.30 442.69 L739.45 437.68 L739.60 432.63 L739.75 427.68 L739.92 422.99 L740.10 418.72 L740.30 415.00 L740.43 412.95 L740.57 411.01 L740.71 409.15 L740.85 407.38 L740.99 405.69 L741.14 404.06 L741.30 402.48 L741.46 400.95 L741.63 399.46 L741.80 398.00 L741.92 396.92 L742.03 395.85 L742.14 394.81 L742.24 393.79 L742.36 392.80 L742.48 391.85 L742.63 390.94 L742.82 390.07 L743.04 389.26 L743.30 388.50 L743.51 387.99 L743.74 387.50 L743.98 387.04 L744.23 386.60 L744.50 386.18 L744.79 385.78 L745.09 385.41 L745.41 385.05 L745.74 384.72 L746.10 384.40 L746.49 384.11 L746.93 383.84 L747.40 383.60 L747.89 383.38 L748.39 383.18 L748.89 382.99 L749.37 382.82 L749.82 382.65 L750.24 382.49 L750.60 382.33 L750.79 382.24 L750.96 382.16 L751.12 382.08 L751.27 382.01 L751.42 381.94 L751.56 381.87 L751.70 381.80 L751.84 381.73 L751.99 381.65 L752.14 381.58 L752.29 381.50 L752.45 381.42 L752.60 381.34 L752.75 381.27 L752.91 381.19 L753.06 381.11 L753.22 381.03 L753.37 380.95 L753.52 380.87 L753.68 380.79 L753.83 380.71 L753.99 380.62 L754.14 380.54 L754.29 380.46 L754.45 380.38 L754.60 380.30 L754.75 380.21 L754.91 380.13 L755.06 380.04 L755.22 379.96 L755.37 379.88 L755.52 379.79 L755.68 379.70 L755.83 379.62 L755.99 379.53 L756.14 379.45 L756.29 379.36 L756.45 379.27 L756.60 379.18 L756.75 379.09 L756.91 379.01 L757.06 378.92 L757.22 378.83 L757.37 378.74 L757.52 378.65 L757.68 378.56 L757.83 378.46 L757.99 378.37 L758.14 378.28 L758.29 378.19 L758.45 378.10 L758.60 378.00 L758.75 377.91 L758.91 377.81 L759.06 377.72 L759.22 377.62 L759.37 377.53 L759.52 377.43 L759.68 377.34 L759.83 377.24 L759.99 377.14 L760.14 377.05 L760.29 376.95 L760.45 376.85 L760.60 376.75 L760.76 376.65 L760.91 376.55 L761.06 376.45 L761.22 376.35 L761.37 376.25 L761.52 376.15 L761.68 376.04 L761.83 375.94 L761.99 375.84 L762.14 375.73 L762.29 375.63 L762.45 375.53 L762.60 375.42 L762.75 375.32 L762.91 375.21 L763.06 375.10 L763.22 375.00 L763.37 374.89 L763.52 374.78 L763.68 374.67 L763.83 374.56 L763.99 374.45 L764.14 374.34 L764.29 374.23 L764.45 374.12 L764.60 374.01 L764.75 373.90 L764.91 373.79 L765.06 373.67 L765.22 373.56 L765.37 373.45 L765.52 373.33 L765.68 373.22 L765.83 373.10 L765.98 372.99 L766.14 372.87 L766.29 372.75 L766.45 372.64 L766.60 372.52 L766.76 372.40 L766.91 372.28 L767.06 372.16 L767.22 372.04 L767.37 371.92 L767.52 371.80 L767.68 371.68 L767.83 371.55 L767.99 371.43 L768.14 371.31 L768.29 371.18 L768.45 371.06 L768.60 370.93 L768.75 370.81 L768.91 370.68 L769.06 370.55 L769.22 370.43 L769.37 370.30 L769.52 370.17 L769.68 370.04 L769.83 369.91 L769.99 369.78 L770.14 369.65 L770.29 369.52 L770.45 369.39 L770.60 369.25 L770.75 369.12 L770.91 368.99 L771.06 368.85 L771.22 368.72 L771.37 368.58 L771.52 368.44 L771.68 368.31 L771.83 368.17 L771.99 368.03 L772.14 367.89 L772.29 367.75 L772.45 367.61 L772.60 367.47 L772.76 367.33 L772.91 367.19 L773.06 367.04 L773.22 366.90 L773.37 366.76 L773.52 366.61 L773.68 366.47 L773.83 366.32 L773.99 366.17 L774.14 366.03 L774.29 365.88 L774.45 365.73 L774.60 365.58 L774.76 365.43 L774.91 365.28 L775.06 365.13 L775.22 364.98 L775.37 364.83 L775.52 364.67 L775.68 364.52 L775.83 364.36 L775.99 364.21 L776.14 364.05 L776.29 363.89 L776.45 363.74 L776.60 363.58 L776.75 363.42 L776.91 363.26 L777.06 363.10 L777.22 362.94 L777.37 362.78 L777.53 362.61 L777.68 362.45 L777.83 362.29 L777.99 362.12 L778.14 361.96 L778.29 361.79 L778.45 361.62 L778.60 361.46 L778.76 361.29 L778.91 361.12 L779.06 360.95 L779.22 360.78 L779.37 360.61 L779.52 360.43 L779.68 360.26 L779.83 360.09 L779.99 359.91 L780.14 359.74 L780.29 359.56 L780.45 359.38 L780.60 359.20 L780.76 359.03 L780.91 358.85 L781.06 358.67 L781.22 358.49 L781.37 358.31 L781.52 358.12 L781.68 357.94 L781.83 357.75 L781.99 357.57 L782.14 357.38 L782.29 357.19 L782.45 357.01 L782.60 356.82 L782.75 356.63 L782.91 356.44 L783.06 356.25 L783.22 356.06 L783.37 355.86 L783.53 355.67 L783.68 355.48 L783.83 355.28 L783.99 355.08 L784.14 354.89 L784.29 354.69 L784.45 354.49 L784.60 354.29 L784.76 354.09 L784.91 353.89 L785.06 353.69 L785.22 353.48 L785.37 353.28 L785.53 353.07 L785.68 352.87 L785.83 352.66 L785.98 352.45 L786.14 352.24 L786.29 352.03 L786.45 351.82 L786.60 351.61 L786.76 351.40 L786.91 351.18 L787.06 350.97 L787.22 350.75 L787.37 350.54 L787.52 350.32 L787.68 350.10 L787.83 349.88 L787.99 349.66 L788.14 349.44 L788.30 349.22 L788.45 348.99 L788.60 348.77 L788.76 348.55 L788.91 348.32 L789.06 348.09 L789.22 347.86 L789.37 347.63 L789.53 347.40 L789.68 347.17 L789.83 346.94 L789.99 346.70 L790.14 346.47 L790.29 346.24 L790.45 346.00 L790.60 345.76 L790.75 345.52 L790.91 345.28 L791.06 345.04 L791.22 344.80 L791.37 344.55 L791.53 344.31 L791.68 344.07 L791.83 343.82 L791.99 343.57 L792.14 343.33 L792.29 343.08 L792.45 342.82 L792.60 342.57 L792.76 342.32 L792.91 342.06 L793.06 341.81 L793.22 341.55 L793.37 341.29 L793.52 341.04 L793.68 340.78 L793.83 340.52 L793.99 340.25 L794.14 339.99 L794.30 339.72 L794.45 339.46 L794.60 339.19 L794.76 338.92 L794.91 338.65 L795.06 338.38 L795.22 338.11 L795.37 337.84 L795.53 337.56 L795.68 337.29 L795.83 337.01 L795.99 336.73 L796.14 336.45 L796.30 336.17 L796.45 335.89 L796.60 335.61 L796.75 335.33 L796.91 335.04 L797.06 334.75 L797.22 334.46 L797.37 334.17 L797.53 333.88 L797.68 333.59 L797.83 333.30 L797.99 333.00 L798.14 332.71 L798.29 332.42 L798.45 332.11 L798.60 331.81 L798.76 331.51 L798.91 331.21 L799.06 330.90 L799.22 330.60 L799.37 330.29 L799.53 329.99 L799.68 329.68 L799.83 329.37 L799.99 329.06 L800.14 328.74 L800.30 328.42 L800.45 328.11 L800.60 327.79 L800.76 327.47 L800.91 327.15 L801.06 326.83 L801.22 326.51 L801.37 326.19 L801.52 325.86 L801.68 325.53 L801.83 325.20 L801.99 324.86 L802.14 324.53 L802.30 324.20 L802.45 323.86 L802.60 323.53 L802.76 323.19 L802.91 322.86 L803.06 322.51 L803.22 322.17 L803.37 321.82 L803.53 321.48 L803.68 321.13 L803.83 320.78 L803.99 320.43 L804.14 320.08 L804.29 319.73 L804.45 319.38 L804.60 319.02 L804.76 318.66 L804.91 318.29 L805.07 317.93 L805.22 317.57 L805.37 317.20 L805.53 316.84 L805.68 316.47 L805.83 316.11 L805.98 315.74 L806.14 315.36 L806.29 314.98 L806.45 314.61 L806.60 314.23 L806.76 313.85 L806.91 313.47 L807.06 313.09 L807.22 312.70 L807.37 312.32 L807.52 311.93 L807.68 311.54 L807.84 311.15 L808.00 310.75 L808.16 310.36 L808.33 309.96 L808.48 309.57 L808.64 309.17 L808.79 308.77 L808.93 308.36 L809.06 307.96 L809.19 307.55 L809.30 307.14 L809.41 306.72 L809.51 306.31 L809.61 305.89 L809.71 305.47 L809.80 305.05 L809.90 304.63 L810.00 304.22 L810.10 303.80 L811.10 303.80 L811.36 310.49 L811.62 317.29 L811.88 324.15 L812.14 331.03 L812.40 337.87 L812.67 344.64 L812.93 351.28 L813.18 357.76 L813.44 364.01 L813.70 370.00 L813.89 374.66 L814.06 379.37 L814.22 384.07 L814.38 388.70 L814.54 393.18 L814.72 397.46 L814.91 401.48 L815.14 405.17 L815.40 408.46 L815.70 411.30 L815.84 412.46 L815.97 413.53 L816.10 414.53 L816.23 415.46 L816.37 416.33 L816.53 417.15 L816.71 417.92 L816.93 418.64 L817.19 419.33 L817.50 420.00 L817.75 420.48 L818.01 420.94 L818.29 421.38 L818.57 421.79 L818.88 422.17 L819.22 422.53 L819.58 422.87 L819.98 423.17 L820.42 423.45 L820.90 423.70 L821.71 423.99 L822.60 424.17 L823.59 424.26 L824.64 424.28 L825.77 424.25 L826.96 424.20 L828.21 424.14 L829.50 424.08 L830.83 424.07 L832.20 424.10 L834.51 424.21 L837.08 424.34 L839.86 424.47 L842.77 424.63 L845.77 424.79 L848.79 424.97 L851.78 425.16 L854.69 425.36 L857.45 425.57 L860.00 425.80 L861.90 425.97 L863.79 426.12 L865.65 426.26 L867.47 426.40 L869.24 426.56 L870.95 426.74 L872.58 426.97 L874.13 427.25 L875.57 427.59 L876.90 428.00 L877.74 428.32 L878.53 428.65 L879.28 428.99 L879.99 429.36 L880.66 429.75 L881.30 430.17 L881.91 430.62 L882.49 431.11 L883.05 431.63 L883.60 432.20 L884.17 432.87 L884.69 433.58 L885.17 434.34 L885.62 435.14 L886.04 435.98 L886.44 436.86 L886.82 437.77 L887.19 438.71 L887.55 439.69 L887.90 440.70 L888.35 442.14 L888.77 443.70 L889.14 445.34 L889.49 447.06 L889.82 448.83 L890.13 450.62 L890.42 452.41 L890.71 454.19 L891.00 455.93 L891.30 457.60 L891.58 459.12 L891.84 460.62 L892.10 462.11 L892.35 463.59 L892.59 465.06 L892.83 466.52 L893.07 467.99 L893.31 469.45 L893.55 470.92 L893.80 472.40" fill="none" stroke="#000000" stroke-width="2.5" stroke-linejoin="round" stroke-linecap="butt"/>
<path d="M740.20 460.40 L740.41 455.90 L740.62 451.26 L740.82 446.53 L741.02 441.77 L741.22 437.07 L741.42 432.46 L741.64 428.03 L741.88 423.83 L742.13 419.93 L742.40 416.40 L742.58 414.41 L742.78 412.51 L742.99 410.71 L743.20 408.98 L743.42 407.34 L743.64 405.76 L743.85 404.24 L744.05 402.78 L744.23 401.37 L744.40 400.00 L744.50 399.08 L744.59 398.21 L744.66 397.37 L744.73 396.57 L744.80 395.79 L744.87 395.02 L744.95 394.27 L745.05 393.52 L745.16 392.76 L745.30 392.00 L745.43 391.24 L745.55 390.45 L745.67 389.63 L745.80 388.82 L745.94 388.03 L746.11 387.26 L746.32 386.55 L746.58 385.91 L746.91 385.35 L747.30 384.90 L747.73 384.60 L748.23 384.37 L748.80 384.21 L749.40 384.11 L750.03 384.04 L750.67 384.00 L751.29 383.97 L751.88 383.94 L752.43 383.89 L752.90 383.82 L753.17 383.75 L753.42 383.69 L753.65 383.64 L753.88 383.58 L754.09 383.52 L754.31 383.47 L754.51 383.41 L754.72 383.35 L754.94 383.30 L755.16 383.23 L755.39 383.17 L755.61 383.11 L755.84 383.05 L756.06 382.98 L756.29 382.92 L756.52 382.85 L756.74 382.79 L756.97 382.72 L757.19 382.65 L757.42 382.58 L757.64 382.51 L757.87 382.44 L758.10 382.37 L758.32 382.30 L758.55 382.23 L758.77 382.16 L759.00 382.08 L759.23 382.01 L759.45 381.93 L759.68 381.86 L759.90 381.78 L760.13 381.70 L760.36 381.63 L760.58 381.55 L760.81 381.47 L761.03 381.39 L761.26 381.31 L761.49 381.22 L761.71 381.14 L761.94 381.06 L762.16 380.98 L762.39 380.89 L762.61 380.81 L762.84 380.72 L763.07 380.63 L763.29 380.54 L763.52 380.46 L763.74 380.37 L763.97 380.28 L764.19 380.19 L764.42 380.10 L764.65 380.00 L764.87 379.91 L765.10 379.82 L765.33 379.72 L765.55 379.63 L765.78 379.53 L766.00 379.44 L766.23 379.34 L766.45 379.24 L766.68 379.14 L766.91 379.04 L767.13 378.94 L767.36 378.84 L767.59 378.74 L767.81 378.64 L768.04 378.54 L768.26 378.43 L768.49 378.33 L768.71 378.22 L768.94 378.12 L769.17 378.01 L769.39 377.90 L769.62 377.79 L769.84 377.68 L770.07 377.58 L770.30 377.46 L770.52 377.35 L770.75 377.24 L770.97 377.13 L771.20 377.02 L771.42 376.90 L771.65 376.79 L771.88 376.67 L772.10 376.55 L772.33 376.44 L772.55 376.32 L772.78 376.20 L773.01 376.08 L773.23 375.96 L773.46 375.84 L773.68 375.72 L773.91 375.59 L774.14 375.47 L774.36 375.35 L774.59 375.22 L774.81 375.10 L775.04 374.97 L775.26 374.84 L775.49 374.72 L775.72 374.59 L775.94 374.46 L776.17 374.33 L776.40 374.20 L776.62 374.06 L776.85 373.93 L777.07 373.80 L777.30 373.66 L777.52 373.53 L777.75 373.40 L777.98 373.26 L778.20 373.12 L778.43 372.98 L778.65 372.84 L778.88 372.71 L779.11 372.57 L779.33 372.42 L779.56 372.28 L779.78 372.14 L780.01 372.00 L780.23 371.85 L780.46 371.71 L780.69 371.56 L780.91 371.42 L781.14 371.27 L781.37 371.12 L781.59 370.97 L781.82 370.83 L782.04 370.68 L782.27 370.53 L782.49 370.37 L782.72 370.22 L782.95 370.07 L783.17 369.91 L783.40 369.76 L783.62 369.60 L783.85 369.45 L784.08 369.29 L784.30 369.13 L784.53 368.97 L784.75 368.81 L784.98 368.65 L785.21 368.49 L785.43 368.33 L785.66 368.17 L785.88 368.01 L786.11 367.84 L786.33 367.68 L786.56 367.51 L786.78 367.35 L787.01 367.18 L787.24 367.01 L787.46 366.84 L787.69 366.67 L787.92 366.50 L788.14 366.33 L788.37 366.16 L788.59 365.99 L788.82 365.81 L789.04 365.64 L789.27 365.46 L789.50 365.29 L789.72 365.11 L789.95 364.93 L790.18 364.76 L790.40 364.58 L790.63 364.40 L790.85 364.22 L791.08 364.04 L791.30 363.86 L791.53 363.67 L791.76 363.49 L791.98 363.30 L792.21 363.12 L792.43 362.93 L792.66 362.74 L792.89 362.56 L793.11 362.37 L793.34 362.18 L793.56 361.99 L793.79 361.80 L794.01 361.61 L794.24 361.42 L794.47 361.22 L794.69 361.03 L794.92 360.83 L795.14 360.64 L795.37 360.44 L795.60 360.25 L795.82 360.05 L796.05 359.85 L796.27 359.65 L796.50 359.45 L796.73 359.25 L796.95 359.04 L797.18 358.84 L797.40 358.64 L797.63 358.43 L797.85 358.23 L798.08 358.03 L798.31 357.82 L798.53 357.61 L798.76 357.40 L798.99 357.19 L799.21 356.98 L799.44 356.77 L799.66 356.56 L799.89 356.35 L800.11 356.14 L800.34 355.92 L800.57 355.71 L800.79 355.49 L801.02 355.27 L801.24 355.06 L801.47 354.84 L801.70 354.62 L801.92 354.40 L802.15 354.18 L802.37 353.96 L802.60 353.74 L802.82 353.51 L803.05 353.29 L803.28 353.06 L803.50 352.84 L803.73 352.61 L803.96 352.39 L804.18 352.16 L804.41 351.93 L804.63 351.70 L804.86 351.47 L805.08 351.24 L805.31 351.01 L805.54 350.77 L805.76 350.54 L805.99 350.31 L806.21 350.07 L806.44 349.84 L806.67 349.60 L806.89 349.36 L807.12 349.13 L807.34 348.89 L807.57 348.64 L807.80 348.40 L808.02 348.16 L808.25 347.92 L808.47 347.68 L808.70 347.43 L808.92 347.19 L809.15 346.94 L809.37 346.70 L809.60 346.45 L809.83 346.20 L810.05 345.95 L810.28 345.70 L810.51 345.45 L810.73 345.20 L810.96 344.94 L811.18 344.69 L811.41 344.44 L811.63 344.18 L811.86 343.93 L812.09 343.67 L812.31 343.41 L812.54 343.15 L812.77 342.89 L812.99 342.64 L813.22 342.37 L813.44 342.11 L813.67 341.85 L813.89 341.59 L814.12 341.32 L814.35 341.06 L814.57 340.79 L814.80 340.53 L815.02 340.26 L815.25 339.99 L815.48 339.72 L815.70 339.45 L815.93 339.18 L816.15 338.91 L816.38 338.64 L816.60 338.36 L816.83 338.09 L817.06 337.81 L817.28 337.54 L817.51 337.26 L817.73 336.98 L817.96 336.71 L818.19 336.43 L818.41 336.15 L818.64 335.87 L818.86 335.58 L819.09 335.30 L819.32 335.02 L819.54 334.73 L819.77 334.45 L819.99 334.16 L820.22 333.88 L820.44 333.59 L820.67 333.30 L820.90 333.01 L821.12 332.72 L821.35 332.43 L821.58 332.14 L821.80 331.84 L822.03 331.55 L822.25 331.26 L822.48 330.96 L822.70 330.67 L822.93 330.37 L823.16 330.07 L823.38 329.77 L823.61 329.47 L823.83 329.17 L824.06 328.87 L824.29 328.57 L824.51 328.27 L824.74 327.96 L824.96 327.66 L825.19 327.35 L825.41 327.05 L825.64 326.74 L825.87 326.43 L826.09 326.12 L826.32 325.81 L826.55 325.50 L826.77 325.19 L827.00 324.88 L827.22 324.56 L827.45 324.25 L827.67 323.93 L827.90 323.62 L828.13 323.30 L828.35 322.98 L828.58 322.66 L828.80 322.34 L829.03 322.02 L829.25 321.70 L829.48 321.38 L829.71 321.06 L829.93 320.74 L830.16 320.41 L830.38 320.08 L830.61 319.76 L830.84 319.43 L831.06 319.10 L831.29 318.77 L831.51 318.44 L831.74 318.11 L831.96 317.78 L832.19 317.45 L832.42 317.12 L832.64 316.78 L832.87 316.45 L833.10 316.11 L833.32 315.77 L833.55 315.44 L833.77 315.10 L834.00 314.76 L834.22 314.42 L834.45 314.08 L834.68 313.74 L834.90 313.39 L835.13 313.05 L835.36 312.70 L835.58 312.36 L835.81 312.01 L836.03 311.66 L836.26 311.32 L836.48 310.97 L836.71 310.62 L836.94 310.27 L837.18 309.92 L837.41 309.57 L837.64 309.21 L837.87 308.86 L838.10 308.50 L838.32 308.15 L838.53 307.79 L838.74 307.43 L838.94 307.07 L839.12 306.71 L839.30 306.35 L839.48 305.99 L839.65 305.62 L839.82 305.26 L839.99 304.89 L840.16 304.53 L840.33 304.16 L840.50 303.80 L841.50 303.80 L841.71 310.49 L841.91 317.29 L842.11 324.15 L842.31 331.03 L842.51 337.87 L842.72 344.64 L842.92 351.28 L843.14 357.76 L843.36 364.01 L843.60 370.00 L843.78 374.66 L843.96 379.37 L844.12 384.07 L844.30 388.70 L844.47 393.18 L844.67 397.46 L844.88 401.48 L845.12 405.17 L845.39 408.46 L845.70 411.30 L845.85 412.46 L845.98 413.52 L846.11 414.52 L846.25 415.44 L846.39 416.30 L846.55 417.11 L846.74 417.88 L846.95 418.61 L847.20 419.31 L847.50 420.00 L847.74 420.52 L847.98 421.02 L848.23 421.50 L848.48 421.97 L848.76 422.40 L849.07 422.81 L849.43 423.19 L849.82 423.53 L850.28 423.84 L850.80 424.10 L851.99 424.43 L853.45 424.55 L855.14 424.49 L857.00 424.31 L858.98 424.03 L861.04 423.71 L863.12 423.37 L865.17 423.06 L867.15 422.83 L869.00 422.70 L870.65 422.66 L872.26 422.64 L873.84 422.64 L875.41 422.65 L876.98 422.68 L878.56 422.72 L880.17 422.76 L881.82 422.81 L883.53 422.85 L885.30 422.90 L887.64 422.95 L890.10 423.01 L892.67 423.08 L895.31 423.15 L897.97 423.22 L900.65 423.31 L903.29 423.41 L905.86 423.53 L908.35 423.65 L910.70 423.80 L912.55 423.92 L914.36 424.02 L916.14 424.11 L917.88 424.21 L919.59 424.32 L921.26 424.47 L922.90 424.64 L924.50 424.87 L926.07 425.15 L927.60 425.50 L928.91 425.84 L930.21 426.20 L931.49 426.59 L932.75 427.00 L933.98 427.45 L935.17 427.95 L936.31 428.49 L937.40 429.09 L938.43 429.76 L939.40 430.50 L940.27 431.29 L941.06 432.14 L941.78 433.04 L942.46 434.00 L943.10 435.00 L943.70 436.06 L944.30 437.16 L944.89 438.30 L945.48 439.48 L946.10 440.70 L946.93 442.41 L947.73 444.26 L948.51 446.20 L949.28 448.24 L950.04 450.33 L950.79 452.46 L951.53 454.60 L952.28 456.74 L953.04 458.85 L953.80 460.90" fill="none" stroke="#ff0000" stroke-width="2.5" stroke-linejoin="round" stroke-linecap="butt"/>
<path d="M737.90 460.40 L738.13 455.90 L738.35 451.26 L738.57 446.53 L738.79 441.78 L739.01 437.07 L739.24 432.46 L739.47 428.03 L739.70 423.83 L739.95 419.94 L740.20 416.40 L740.36 414.40 L740.52 412.49 L740.67 410.65 L740.83 408.90 L741.00 407.22 L741.16 405.63 L741.34 404.11 L741.52 402.66 L741.70 401.29 L741.90 400.00 L742.02 399.23 L742.14 398.50 L742.26 397.81 L742.38 397.16 L742.50 396.52 L742.63 395.92 L742.78 395.32 L742.93 394.74 L743.11 394.17 L743.30 393.60 L743.48 393.10 L743.67 392.60 L743.87 392.11 L744.08 391.62 L744.29 391.15 L744.52 390.70 L744.77 390.26 L745.03 389.85 L745.30 389.46 L745.60 389.10 L745.87 388.81 L746.16 388.54 L746.45 388.29 L746.76 388.06 L747.08 387.84 L747.41 387.64 L747.76 387.45 L748.12 387.26 L748.50 387.08 L748.90 386.90 L749.48 386.67 L750.13 386.47 L750.84 386.28 L751.57 386.11 L752.32 385.95 L753.07 385.81 L753.80 385.67 L754.50 385.53 L755.13 385.40 L755.70 385.27 L756.02 385.19 L756.32 385.12 L756.60 385.05 L756.86 384.98 L757.12 384.91 L757.37 384.85 L757.62 384.78 L757.87 384.72 L758.12 384.65 L758.38 384.58 L758.65 384.51 L758.92 384.44 L759.19 384.37 L759.46 384.29 L759.73 384.22 L760.00 384.15 L760.26 384.08 L760.53 384.00 L760.80 383.93 L761.07 383.85 L761.34 383.78 L761.61 383.71 L761.88 383.63 L762.14 383.55 L762.41 383.48 L762.68 383.40 L762.95 383.33 L763.22 383.25 L763.49 383.17 L763.75 383.09 L764.02 383.02 L764.29 382.94 L764.56 382.86 L764.83 382.78 L765.10 382.70 L765.37 382.62 L765.63 382.54 L765.90 382.46 L766.17 382.38 L766.44 382.30 L766.71 382.22 L766.98 382.13 L767.24 382.05 L767.51 381.97 L767.78 381.88 L768.05 381.80 L768.32 381.72 L768.59 381.63 L768.85 381.55 L769.12 381.46 L769.39 381.38 L769.66 381.29 L769.93 381.20 L770.20 381.12 L770.47 381.03 L770.73 380.94 L771.00 380.85 L771.27 380.76 L771.54 380.67 L771.81 380.58 L772.08 380.49 L772.35 380.40 L772.61 380.31 L772.88 380.22 L773.15 380.13 L773.42 380.04 L773.69 379.94 L773.96 379.85 L774.22 379.76 L774.49 379.66 L774.76 379.57 L775.03 379.47 L775.30 379.38 L775.57 379.28 L775.84 379.19 L776.10 379.09 L776.37 378.99 L776.64 378.89 L776.91 378.80 L777.18 378.70 L777.45 378.60 L777.71 378.50 L777.98 378.40 L778.25 378.30 L778.52 378.19 L778.79 378.09 L779.06 377.99 L779.33 377.89 L779.59 377.78 L779.86 377.68 L780.13 377.58 L780.40 377.47 L780.67 377.36 L780.94 377.26 L781.20 377.15 L781.47 377.05 L781.74 376.94 L782.01 376.83 L782.28 376.72 L782.55 376.61 L782.82 376.50 L783.08 376.39 L783.35 376.28 L783.62 376.17 L783.89 376.06 L784.16 375.94 L784.43 375.83 L784.69 375.72 L784.96 375.60 L785.23 375.49 L785.50 375.37 L785.77 375.26 L786.04 375.14 L786.31 375.02 L786.57 374.91 L786.84 374.79 L787.11 374.67 L787.38 374.55 L787.65 374.43 L787.92 374.31 L788.18 374.19 L788.45 374.06 L788.72 373.94 L788.99 373.82 L789.26 373.69 L789.53 373.57 L789.80 373.44 L790.06 373.32 L790.33 373.19 L790.60 373.07 L790.87 372.94 L791.14 372.81 L791.41 372.68 L791.68 372.55 L791.94 372.42 L792.21 372.29 L792.48 372.16 L792.75 372.03 L793.02 371.89 L793.28 371.76 L793.55 371.62 L793.82 371.49 L794.09 371.35 L794.36 371.22 L794.63 371.08 L794.90 370.94 L795.17 370.80 L795.43 370.66 L795.70 370.52 L795.97 370.38 L796.24 370.24 L796.51 370.10 L796.78 369.96 L797.04 369.81 L797.31 369.67 L797.58 369.52 L797.85 369.38 L798.12 369.23 L798.39 369.08 L798.65 368.94 L798.92 368.79 L799.19 368.64 L799.46 368.49 L799.73 368.33 L800.00 368.18 L800.27 368.03 L800.53 367.88 L800.80 367.72 L801.07 367.57 L801.34 367.41 L801.61 367.25 L801.88 367.09 L802.15 366.94 L802.41 366.78 L802.68 366.62 L802.95 366.46 L803.22 366.29 L803.49 366.13 L803.76 365.97 L804.02 365.80 L804.29 365.64 L804.56 365.47 L804.83 365.30 L805.10 365.14 L805.37 364.97 L805.64 364.80 L805.90 364.63 L806.17 364.46 L806.44 364.29 L806.71 364.11 L806.98 363.94 L807.25 363.76 L807.52 363.59 L807.78 363.41 L808.05 363.23 L808.32 363.05 L808.59 362.87 L808.86 362.69 L809.12 362.51 L809.39 362.33 L809.66 362.15 L809.93 361.96 L810.20 361.77 L810.47 361.59 L810.74 361.40 L811.01 361.21 L811.27 361.02 L811.54 360.83 L811.81 360.64 L812.08 360.45 L812.35 360.26 L812.62 360.06 L812.88 359.87 L813.15 359.67 L813.42 359.47 L813.69 359.27 L813.96 359.07 L814.23 358.87 L814.49 358.67 L814.76 358.47 L815.03 358.27 L815.30 358.06 L815.57 357.85 L815.84 357.65 L816.11 357.44 L816.38 357.23 L816.64 357.02 L816.91 356.81 L817.18 356.60 L817.45 356.38 L817.72 356.17 L817.99 355.95 L818.25 355.73 L818.52 355.51 L818.79 355.29 L819.06 355.07 L819.33 354.85 L819.60 354.63 L819.86 354.41 L820.13 354.18 L820.40 353.95 L820.67 353.72 L820.94 353.49 L821.21 353.26 L821.48 353.03 L821.75 352.80 L822.01 352.57 L822.28 352.33 L822.55 352.10 L822.82 351.86 L823.09 351.62 L823.35 351.38 L823.62 351.14 L823.89 350.89 L824.16 350.65 L824.43 350.40 L824.70 350.16 L824.97 349.91 L825.23 349.66 L825.50 349.41 L825.77 349.16 L826.04 348.90 L826.31 348.65 L826.58 348.39 L826.85 348.13 L827.11 347.87 L827.38 347.61 L827.65 347.35 L827.92 347.09 L828.18 346.83 L828.45 346.56 L828.72 346.29 L828.99 346.02 L829.26 345.75 L829.53 345.48 L829.80 345.20 L830.07 344.93 L830.34 344.65 L830.60 344.38 L830.87 344.10 L831.14 343.82 L831.41 343.53 L831.68 343.25 L831.95 342.96 L832.22 342.68 L832.48 342.39 L832.75 342.10 L833.02 341.81 L833.29 341.52 L833.55 341.22 L833.82 340.93 L834.09 340.63 L834.36 340.33 L834.63 340.02 L834.90 339.72 L835.17 339.42 L835.44 339.11 L835.70 338.81 L835.97 338.50 L836.24 338.19 L836.51 337.87 L836.78 337.56 L837.05 337.24 L837.32 336.92 L837.59 336.60 L837.85 336.28 L838.12 335.96 L838.39 335.64 L838.66 335.31 L838.92 334.99 L839.19 334.65 L839.46 334.32 L839.73 333.98 L840.00 333.65 L840.27 333.31 L840.54 332.97 L840.81 332.63 L841.07 332.29 L841.34 331.95 L841.61 331.60 L841.88 331.25 L842.15 330.90 L842.42 330.55 L842.69 330.19 L842.96 329.83 L843.22 329.48 L843.49 329.12 L843.76 328.76 L844.03 328.40 L844.29 328.03 L844.56 327.66 L844.83 327.29 L845.10 326.92 L845.37 326.54 L845.64 326.17 L845.91 325.79 L846.18 325.41 L846.44 325.03 L846.71 324.65 L846.98 324.26 L847.25 323.87 L847.52 323.48 L847.79 323.08 L848.06 322.69 L848.33 322.29 L848.59 321.89 L848.86 321.49 L849.13 321.09 L849.40 320.69 L849.66 320.28 L849.93 319.87 L850.20 319.45 L850.47 319.04 L850.74 318.62 L851.01 318.20 L851.28 317.78 L851.55 317.36 L851.81 316.93 L852.08 316.51 L852.35 316.08 L852.62 315.64 L852.89 315.20 L853.16 314.76 L853.43 314.32 L853.70 313.88 L853.96 313.43 L854.23 312.99 L854.50 312.54 L854.76 312.09 L855.03 311.64 L855.30 311.18 L855.58 310.72 L855.86 310.25 L856.13 309.79 L856.41 309.32 L856.68 308.85 L856.95 308.38 L857.21 307.91 L857.47 307.43 L857.72 306.95 L857.95 306.47 L858.18 305.98 L858.41 305.49 L858.63 304.99 L858.84 304.49 L859.05 303.99 L859.26 303.49 L859.47 302.99 L859.68 302.50 L859.90 302.00 L860.90 302.00 L861.23 308.88 L861.57 315.87 L861.91 322.93 L862.25 330.01 L862.59 337.05 L862.93 344.01 L863.26 350.84 L863.58 357.48 L863.90 363.88 L864.20 370.00 L864.42 374.67 L864.63 379.38 L864.82 384.05 L865.01 388.64 L865.19 393.09 L865.39 397.34 L865.59 401.35 L865.80 405.04 L866.04 408.38 L866.30 411.30 L866.43 412.56 L866.55 413.74 L866.66 414.84 L866.78 415.86 L866.91 416.83 L867.04 417.74 L867.19 418.60 L867.37 419.42 L867.57 420.22 L867.80 421.00 L867.97 421.55 L868.12 422.09 L868.27 422.62 L868.42 423.12 L868.59 423.61 L868.79 424.06 L869.03 424.48 L869.32 424.87 L869.67 425.21 L870.10 425.50 L871.02 425.86 L872.13 426.03 L873.43 426.06 L874.87 425.96 L876.44 425.77 L878.11 425.52 L879.85 425.25 L881.65 424.99 L883.47 424.76 L885.30 424.60 L888.14 424.41 L891.21 424.17 L894.46 423.90 L897.86 423.62 L901.37 423.34 L904.94 423.07 L908.54 422.83 L912.13 422.63 L915.66 422.48 L919.10 422.40 L922.56 422.38 L926.14 422.41 L929.79 422.48 L933.46 422.58 L937.09 422.72 L940.64 422.89 L944.05 423.09 L947.26 423.30 L950.23 423.54 L952.90 423.80 L954.34 423.96 L955.67 424.11 L956.93 424.27 L958.12 424.44 L959.26 424.61 L960.36 424.80 L961.44 425.02 L962.51 425.25 L963.59 425.51 L964.70 425.80 L965.78 426.10 L966.85 426.41 L967.93 426.74 L969.00 427.09 L970.05 427.46 L971.08 427.85 L972.09 428.27 L973.06 428.71 L974.00 429.19 L974.90 429.70 L975.67 430.19 L976.40 430.71 L977.10 431.25 L977.78 431.82 L978.43 432.40 L979.07 433.01 L979.70 433.63 L980.33 434.27 L980.96 434.93 L981.60 435.60 L982.31 436.36 L983.01 437.15 L983.70 437.96 L984.39 438.80 L985.07 439.65 L985.74 440.52 L986.41 441.41 L987.08 442.30 L987.74 443.20 L988.40 444.10 L989.09 445.07 L989.77 446.07 L990.45 447.08 L991.13 448.12 L991.79 449.16 L992.46 450.19 L993.12 451.23 L993.78 452.24 L994.44 453.24 L995.10 454.20 L995.70 455.05 L996.29 455.89 L996.88 456.71 L997.47 457.51 L998.06 458.31 L998.65 459.11 L999.24 459.90 L999.82 460.70 L1000.41 461.49 L1001.00 462.30" fill="none" stroke="#0000ff" stroke-width="2.5" stroke-linejoin="round" stroke-linecap="butt"/>
<line x1="954.40" y1="293.20" x2="976.80" y2="293.20" stroke="#000000" stroke-width="2.8" stroke-linecap="round"/>
<g transform="translate(981.10,296.70) scale(1.0,1.1)"><text x="0" y="0" font-family='"Liberation Sans", sans-serif' font-size="13.3" font-weight="bold" text-anchor="start" fill="#000">90th</text></g>
<line x1="954.40" y1="310.80" x2="976.80" y2="310.80" stroke="#ff0000" stroke-width="2.8" stroke-linecap="round"/>
<g transform="translate(981.10,314.30) scale(1.0,1.1)"><text x="0" y="0" font-family='"Liberation Sans", sans-serif' font-size="13.3" font-weight="bold" text-anchor="start" fill="#000">30th</text></g>
<line x1="954.40" y1="328.60" x2="976.80" y2="328.60" stroke="#0000ff" stroke-width="2.8" stroke-linecap="round"/>
<g transform="translate(981.10,332.10) scale(1.0,1.1)"><text x="0" y="0" font-family='"Liberation Sans", sans-serif' font-size="13.3" font-weight="bold" text-anchor="start" fill="#000">1st</text></g>
</svg></body></html>
